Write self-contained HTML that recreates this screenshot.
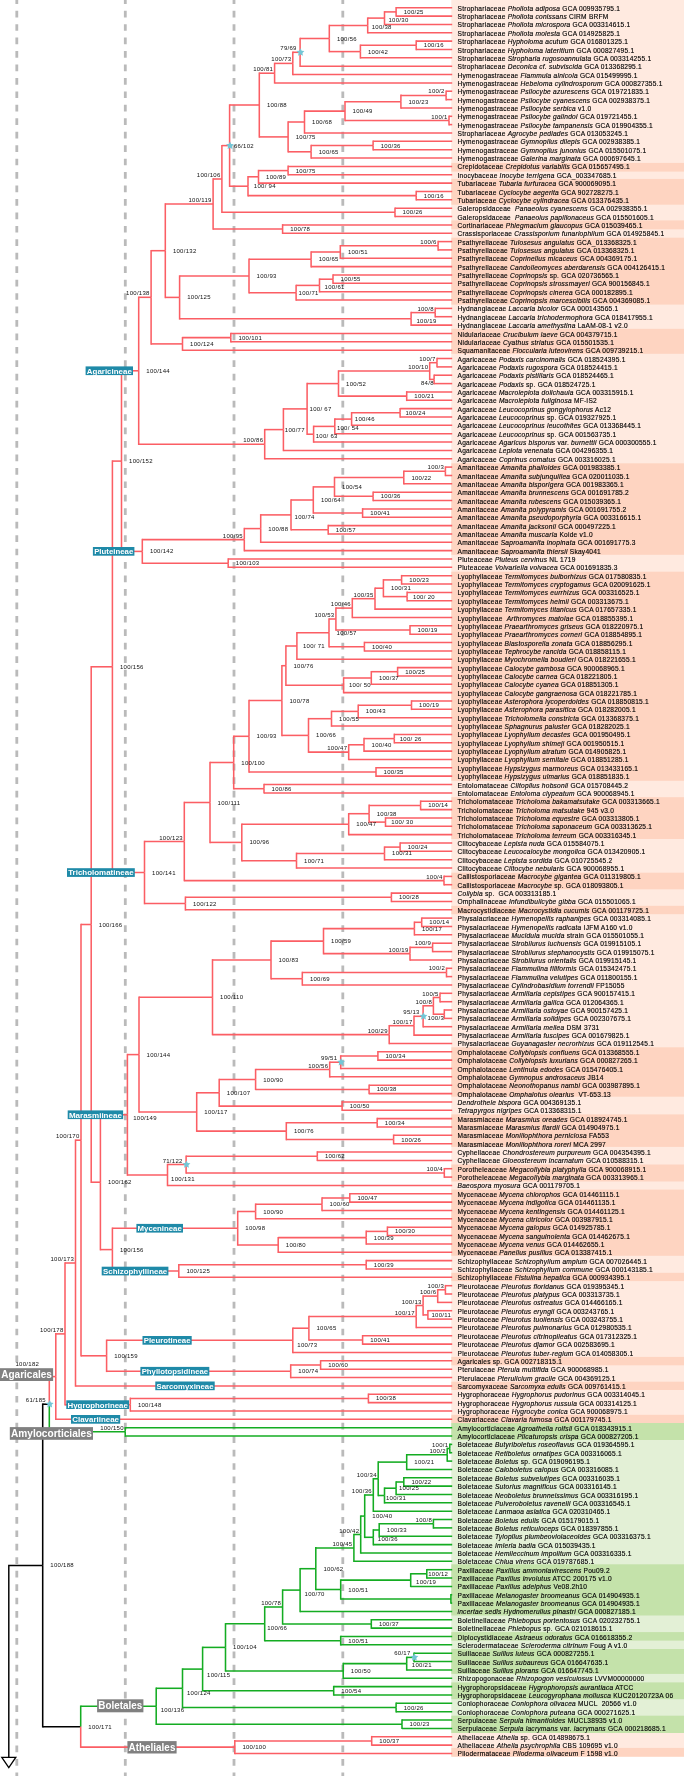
<!DOCTYPE html>
<html><head><meta charset="utf-8"><title>tree</title><style>html,body{margin:0;padding:0;background:#fff}body{width:685px;height:1776px;position:relative;overflow:hidden}</style></head><body>
<svg width="685" height="1776" viewBox="0 0 685 1776" style="position:absolute;left:0;top:0;will-change:transform">
<rect x="451.3" y="0.00" width="232.70" height="1423.00" fill="#ffeae0"/>
<rect x="451.3" y="1423.00" width="232.70" height="310.00" fill="#e3f0d6"/>
<rect x="451.3" y="1733.00" width="232.70" height="23.70" fill="#ffeae0"/>
<rect x="451.3" y="162.90" width="232.70" height="8.70" fill="#fed4c1"/>
<rect x="451.3" y="178.90" width="232.70" height="25.80" fill="#fed4c1"/>
<rect x="451.3" y="220.40" width="232.70" height="8.90" fill="#fed4c1"/>
<rect x="451.3" y="237.70" width="232.70" height="66.90" fill="#fed4c1"/>
<rect x="451.3" y="328.80" width="232.70" height="25.00" fill="#fed4c1"/>
<rect x="451.3" y="463.30" width="232.70" height="91.50" fill="#fed4c1"/>
<rect x="451.3" y="571.70" width="232.70" height="209.10" fill="#fed4c1"/>
<rect x="451.3" y="797.20" width="232.70" height="41.80" fill="#fed4c1"/>
<rect x="451.3" y="872.70" width="232.70" height="16.60" fill="#fed4c1"/>
<rect x="451.3" y="905.80" width="232.70" height="8.40" fill="#fed4c1"/>
<rect x="451.3" y="1047.30" width="232.70" height="49.40" fill="#fed4c1"/>
<rect x="451.3" y="1114.40" width="232.70" height="32.50" fill="#fed4c1"/>
<rect x="451.3" y="1164.50" width="232.70" height="17.00" fill="#fed4c1"/>
<rect x="451.3" y="1189.60" width="232.70" height="66.20" fill="#fed4c1"/>
<rect x="451.3" y="1272.80" width="232.70" height="8.30" fill="#fed4c1"/>
<rect x="451.3" y="1356.90" width="232.70" height="8.40" fill="#fed4c1"/>
<rect x="451.3" y="1381.70" width="232.70" height="8.30" fill="#fed4c1"/>
<rect x="451.3" y="1414.80" width="232.70" height="8.20" fill="#fed4c1"/>
<rect x="451.3" y="1747.90" width="232.70" height="8.80" fill="#fed4c1"/>
<rect x="451.3" y="1423.00" width="232.70" height="17.00" fill="#c4e2aa"/>
<rect x="451.3" y="1564.30" width="232.70" height="51.20" fill="#c4e2aa"/>
<rect x="451.3" y="1632.10" width="232.70" height="8.50" fill="#c4e2aa"/>
<rect x="451.3" y="1649.00" width="232.70" height="24.90" fill="#c4e2aa"/>
<rect x="451.3" y="1682.40" width="232.70" height="16.80" fill="#c4e2aa"/>
<rect x="451.3" y="1715.70" width="232.70" height="17.30" fill="#c4e2aa"/>
<path d="M16.8 0V1776" stroke="#bababa" stroke-width="2.8" stroke-dasharray="6.7 6.7485" stroke-dashoffset="2.74" fill="none"/>
<path d="M125.3 0V1776" stroke="#bababa" stroke-width="2.8" stroke-dasharray="6.7 6.7485" stroke-dashoffset="2.74" fill="none"/>
<path d="M234.0 0V1776" stroke="#bababa" stroke-width="2.8" stroke-dasharray="6.7 6.7485" stroke-dashoffset="2.74" fill="none"/>
<path d="M342.8 0V1776" stroke="#bababa" stroke-width="2.8" stroke-dasharray="6.7 6.7485" stroke-dashoffset="2.74" fill="none"/>
<g fill="none" stroke-linecap="butt">
<path d="M42.7 1565.4L42.7 1403.4" stroke="#000" stroke-width="1.55"/>
<path d="M42.7 1404.2L49.3 1404.2" stroke="#000" stroke-width="1.55"/>
<path d="M49.3 1404.2L49.3 1375.8" stroke="#fb5e64" stroke-width="1.55"/>
<path d="M49.3 1376.6L55.8 1376.6" stroke="#fb5e64" stroke-width="1.55"/>
<path d="M55.8 1376.6L55.8 1333.1" stroke="#fb5e64" stroke-width="1.55"/>
<path d="M55.8 1333.9L65.0 1333.9" stroke="#fb5e64" stroke-width="1.55"/>
<path d="M65.0 1333.9L65.0 1262.3" stroke="#fb5e64" stroke-width="1.55"/>
<path d="M65.0 1263.0L75.5 1263.0" stroke="#fb5e64" stroke-width="1.55"/>
<path d="M75.5 1263.0L75.5 1139.4" stroke="#fb5e64" stroke-width="1.55"/>
<path d="M75.5 1140.2L81.0 1140.2" stroke="#fb5e64" stroke-width="1.55"/>
<path d="M81.0 1140.2L81.0 923.7" stroke="#fb5e64" stroke-width="1.55"/>
<path d="M81.0 924.5L91.2 924.5" stroke="#fb5e64" stroke-width="1.55"/>
<path d="M91.2 924.5L91.2 666.0" stroke="#fb5e64" stroke-width="1.55"/>
<path d="M91.2 666.8L112.4 666.8" stroke="#fb5e64" stroke-width="1.55"/>
<path d="M112.4 666.8L112.4 460.3" stroke="#fb5e64" stroke-width="1.55"/>
<path d="M112.4 461.1L121.5 461.1" stroke="#fb5e64" stroke-width="1.55"/>
<path d="M121.5 461.1L121.5 370.0" stroke="#fb5e64" stroke-width="1.55"/>
<path d="M121.5 370.8L138.7 370.8" stroke="#fb5e64" stroke-width="1.55"/>
<path d="M138.7 370.8L138.7 296.5" stroke="#fb5e64" stroke-width="1.55"/>
<path d="M138.7 297.3L151.1 297.3" stroke="#fb5e64" stroke-width="1.55"/>
<path d="M151.1 297.3L151.1 250.0" stroke="#fb5e64" stroke-width="1.55"/>
<path d="M151.1 250.7L165.3 250.7" stroke="#fb5e64" stroke-width="1.55"/>
<path d="M165.3 250.7L165.3 203.2" stroke="#fb5e64" stroke-width="1.55"/>
<path d="M165.3 204.0L213.1 204.0" stroke="#fb5e64" stroke-width="1.55"/>
<path d="M213.1 204.0L213.1 178.2" stroke="#fb5e64" stroke-width="1.55"/>
<path d="M213.1 179.0L221.9 179.0" stroke="#fb5e64" stroke-width="1.55"/>
<path d="M221.9 179.0L221.9 144.9" stroke="#fb5e64" stroke-width="1.55"/>
<path d="M221.9 145.6L229.6 145.6" stroke="#fb5e64" stroke-width="1.55"/>
<path d="M229.6 145.6L229.6 104.3" stroke="#fb5e64" stroke-width="1.55"/>
<path d="M229.6 105.0L259.3 105.0" stroke="#fb5e64" stroke-width="1.55"/>
<path d="M259.3 105.0L259.3 72.4" stroke="#fb5e64" stroke-width="1.55"/>
<path d="M259.3 73.2L274.6 73.2" stroke="#fb5e64" stroke-width="1.55"/>
<path d="M274.6 73.2L274.6 62.7" stroke="#fb5e64" stroke-width="1.55"/>
<path d="M274.6 63.4L292.8 63.4" stroke="#fb5e64" stroke-width="1.55"/>
<path d="M292.8 63.4L292.8 51.6" stroke="#fb5e64" stroke-width="1.55"/>
<path d="M292.8 52.3L300.1 52.3" stroke="#fb5e64" stroke-width="1.55"/>
<path d="M300.1 52.3L300.1 37.7" stroke="#fb5e64" stroke-width="1.55"/>
<path d="M300.1 38.5L329.3 38.5" stroke="#fb5e64" stroke-width="1.55"/>
<path d="M329.3 38.5L329.3 24.7" stroke="#fb5e64" stroke-width="1.55"/>
<path d="M329.3 25.4L367.7 25.4" stroke="#fb5e64" stroke-width="1.55"/>
<path d="M367.7 25.4L367.7 17.4" stroke="#fb5e64" stroke-width="1.55"/>
<path d="M367.7 18.1L384.5 18.1" stroke="#fb5e64" stroke-width="1.55"/>
<path d="M384.5 18.1L384.5 11.1" stroke="#fb5e64" stroke-width="1.55"/>
<path d="M384.5 11.9L396.1 11.9" stroke="#fb5e64" stroke-width="1.55"/>
<path d="M396.1 11.9L396.1 6.9" stroke="#fb5e64" stroke-width="1.55"/>
<path d="M396.1 7.7L452.2 7.7" stroke="#fb5e64" stroke-width="1.55"/>
<path d="M396.1 11.9L396.1 16.8" stroke="#fb5e64" stroke-width="1.55"/>
<path d="M396.1 16.1L452.2 16.1" stroke="#fb5e64" stroke-width="1.55"/>
<path d="M384.5 18.1L384.5 25.2" stroke="#fb5e64" stroke-width="1.55"/>
<path d="M384.5 24.4L452.2 24.4" stroke="#fb5e64" stroke-width="1.55"/>
<path d="M367.7 25.4L367.7 33.5" stroke="#fb5e64" stroke-width="1.55"/>
<path d="M367.7 32.8L452.2 32.8" stroke="#fb5e64" stroke-width="1.55"/>
<path d="M329.3 38.5L329.3 52.3" stroke="#fb5e64" stroke-width="1.55"/>
<path d="M329.3 51.6L360.4 51.6" stroke="#fb5e64" stroke-width="1.55"/>
<path d="M360.4 51.6L360.4 44.5" stroke="#fb5e64" stroke-width="1.55"/>
<path d="M360.4 45.3L416.2 45.3" stroke="#fb5e64" stroke-width="1.55"/>
<path d="M416.2 45.3L416.2 40.3" stroke="#fb5e64" stroke-width="1.55"/>
<path d="M416.2 41.1L452.2 41.1" stroke="#fb5e64" stroke-width="1.55"/>
<path d="M416.2 45.3L416.2 50.2" stroke="#fb5e64" stroke-width="1.55"/>
<path d="M416.2 49.5L452.2 49.5" stroke="#fb5e64" stroke-width="1.55"/>
<path d="M360.4 51.6L360.4 58.6" stroke="#fb5e64" stroke-width="1.55"/>
<path d="M360.4 57.8L452.2 57.8" stroke="#fb5e64" stroke-width="1.55"/>
<path d="M300.1 52.3L300.1 66.9" stroke="#fb5e64" stroke-width="1.55"/>
<path d="M300.1 66.2L452.2 66.2" stroke="#fb5e64" stroke-width="1.55"/>
<path d="M292.8 63.4L292.8 75.3" stroke="#fb5e64" stroke-width="1.55"/>
<path d="M292.8 74.5L452.2 74.5" stroke="#fb5e64" stroke-width="1.55"/>
<path d="M274.6 73.2L274.6 83.6" stroke="#fb5e64" stroke-width="1.55"/>
<path d="M274.6 82.9L452.2 82.9" stroke="#fb5e64" stroke-width="1.55"/>
<path d="M259.3 105.0L259.3 137.7" stroke="#fb5e64" stroke-width="1.55"/>
<path d="M259.3 136.9L288.1 136.9" stroke="#fb5e64" stroke-width="1.55"/>
<path d="M288.1 136.9L288.1 121.3" stroke="#fb5e64" stroke-width="1.55"/>
<path d="M288.1 122.0L304.5 122.0" stroke="#fb5e64" stroke-width="1.55"/>
<path d="M304.5 122.0L304.5 110.3" stroke="#fb5e64" stroke-width="1.55"/>
<path d="M304.5 111.1L345.0 111.1" stroke="#fb5e64" stroke-width="1.55"/>
<path d="M345.0 111.1L345.0 100.9" stroke="#fb5e64" stroke-width="1.55"/>
<path d="M345.0 101.7L400.9 101.7" stroke="#fb5e64" stroke-width="1.55"/>
<path d="M400.9 101.7L400.9 94.6" stroke="#fb5e64" stroke-width="1.55"/>
<path d="M400.9 95.4L446.1 95.4" stroke="#fb5e64" stroke-width="1.55"/>
<path d="M446.1 95.4L446.1 90.5" stroke="#fb5e64" stroke-width="1.55"/>
<path d="M446.1 91.2L452.2 91.2" stroke="#fb5e64" stroke-width="1.55"/>
<path d="M446.1 95.4L446.1 100.4" stroke="#fb5e64" stroke-width="1.55"/>
<path d="M446.1 99.6L452.2 99.6" stroke="#fb5e64" stroke-width="1.55"/>
<path d="M400.9 101.7L400.9 108.7" stroke="#fb5e64" stroke-width="1.55"/>
<path d="M400.9 107.9L452.2 107.9" stroke="#fb5e64" stroke-width="1.55"/>
<path d="M345.0 111.1L345.0 121.2" stroke="#fb5e64" stroke-width="1.55"/>
<path d="M345.0 120.5L449.0 120.5" stroke="#fb5e64" stroke-width="1.55"/>
<path d="M449.0 120.5L449.0 115.5" stroke="#fb5e64" stroke-width="1.55"/>
<path d="M449.0 116.3L452.2 116.3" stroke="#fb5e64" stroke-width="1.55"/>
<path d="M449.0 120.5L449.0 125.4" stroke="#fb5e64" stroke-width="1.55"/>
<path d="M449.0 124.6L452.2 124.6" stroke="#fb5e64" stroke-width="1.55"/>
<path d="M304.5 122.0L304.5 133.8" stroke="#fb5e64" stroke-width="1.55"/>
<path d="M304.5 133.0L452.2 133.0" stroke="#fb5e64" stroke-width="1.55"/>
<path d="M288.1 136.9L288.1 152.6" stroke="#fb5e64" stroke-width="1.55"/>
<path d="M288.1 151.8L311.1 151.8" stroke="#fb5e64" stroke-width="1.55"/>
<path d="M311.1 151.8L311.1 144.7" stroke="#fb5e64" stroke-width="1.55"/>
<path d="M311.1 145.5L373.1 145.5" stroke="#fb5e64" stroke-width="1.55"/>
<path d="M373.1 145.5L373.1 140.6" stroke="#fb5e64" stroke-width="1.55"/>
<path d="M373.1 141.3L452.2 141.3" stroke="#fb5e64" stroke-width="1.55"/>
<path d="M373.1 145.5L373.1 150.5" stroke="#fb5e64" stroke-width="1.55"/>
<path d="M373.1 149.7L452.2 149.7" stroke="#fb5e64" stroke-width="1.55"/>
<path d="M311.1 151.8L311.1 158.8" stroke="#fb5e64" stroke-width="1.55"/>
<path d="M311.1 158.0L452.2 158.0" stroke="#fb5e64" stroke-width="1.55"/>
<path d="M229.6 145.6L229.6 187.0" stroke="#fb5e64" stroke-width="1.55"/>
<path d="M229.6 186.2L248.0 186.2" stroke="#fb5e64" stroke-width="1.55"/>
<path d="M248.0 186.2L248.0 176.1" stroke="#fb5e64" stroke-width="1.55"/>
<path d="M248.0 176.8L258.5 176.8" stroke="#fb5e64" stroke-width="1.55"/>
<path d="M258.5 176.8L258.5 169.8" stroke="#fb5e64" stroke-width="1.55"/>
<path d="M258.5 170.6L288.1 170.6" stroke="#fb5e64" stroke-width="1.55"/>
<path d="M288.1 170.6L288.1 165.6" stroke="#fb5e64" stroke-width="1.55"/>
<path d="M288.1 166.4L452.2 166.4" stroke="#fb5e64" stroke-width="1.55"/>
<path d="M288.1 170.6L288.1 175.5" stroke="#fb5e64" stroke-width="1.55"/>
<path d="M288.1 174.8L452.2 174.8" stroke="#fb5e64" stroke-width="1.55"/>
<path d="M258.5 176.8L258.5 183.9" stroke="#fb5e64" stroke-width="1.55"/>
<path d="M258.5 183.1L452.2 183.1" stroke="#fb5e64" stroke-width="1.55"/>
<path d="M248.0 186.2L248.0 196.4" stroke="#fb5e64" stroke-width="1.55"/>
<path d="M248.0 195.6L416.2 195.6" stroke="#fb5e64" stroke-width="1.55"/>
<path d="M416.2 195.6L416.2 190.7" stroke="#fb5e64" stroke-width="1.55"/>
<path d="M416.2 191.5L452.2 191.5" stroke="#fb5e64" stroke-width="1.55"/>
<path d="M416.2 195.6L416.2 200.6" stroke="#fb5e64" stroke-width="1.55"/>
<path d="M416.2 199.8L452.2 199.8" stroke="#fb5e64" stroke-width="1.55"/>
<path d="M221.9 179.0L221.9 213.1" stroke="#fb5e64" stroke-width="1.55"/>
<path d="M221.9 212.3L395.0 212.3" stroke="#fb5e64" stroke-width="1.55"/>
<path d="M395.0 212.3L395.0 207.4" stroke="#fb5e64" stroke-width="1.55"/>
<path d="M395.0 208.2L452.2 208.2" stroke="#fb5e64" stroke-width="1.55"/>
<path d="M395.0 212.3L395.0 217.3" stroke="#fb5e64" stroke-width="1.55"/>
<path d="M395.0 216.5L452.2 216.5" stroke="#fb5e64" stroke-width="1.55"/>
<path d="M213.1 204.0L213.1 229.8" stroke="#fb5e64" stroke-width="1.55"/>
<path d="M213.1 229.0L282.6 229.0" stroke="#fb5e64" stroke-width="1.55"/>
<path d="M282.6 229.0L282.6 224.1" stroke="#fb5e64" stroke-width="1.55"/>
<path d="M282.6 224.9L452.2 224.9" stroke="#fb5e64" stroke-width="1.55"/>
<path d="M282.6 229.0L282.6 234.0" stroke="#fb5e64" stroke-width="1.55"/>
<path d="M282.6 233.2L452.2 233.2" stroke="#fb5e64" stroke-width="1.55"/>
<path d="M165.3 250.7L165.3 298.2" stroke="#fb5e64" stroke-width="1.55"/>
<path d="M165.3 297.4L179.6 297.4" stroke="#fb5e64" stroke-width="1.55"/>
<path d="M179.6 297.4L179.6 275.3" stroke="#fb5e64" stroke-width="1.55"/>
<path d="M179.6 276.0L249.0 276.0" stroke="#fb5e64" stroke-width="1.55"/>
<path d="M249.0 276.0L249.0 258.6" stroke="#fb5e64" stroke-width="1.55"/>
<path d="M249.0 259.3L311.1 259.3" stroke="#fb5e64" stroke-width="1.55"/>
<path d="M311.1 259.3L311.1 251.2" stroke="#fb5e64" stroke-width="1.55"/>
<path d="M311.1 252.0L340.3 252.0" stroke="#fb5e64" stroke-width="1.55"/>
<path d="M340.3 252.0L340.3 245.0" stroke="#fb5e64" stroke-width="1.55"/>
<path d="M340.3 245.8L438.1 245.8" stroke="#fb5e64" stroke-width="1.55"/>
<path d="M438.1 245.8L438.1 240.8" stroke="#fb5e64" stroke-width="1.55"/>
<path d="M438.1 241.6L452.2 241.6" stroke="#fb5e64" stroke-width="1.55"/>
<path d="M438.1 245.8L438.1 250.7" stroke="#fb5e64" stroke-width="1.55"/>
<path d="M438.1 249.9L452.2 249.9" stroke="#fb5e64" stroke-width="1.55"/>
<path d="M340.3 252.0L340.3 259.1" stroke="#fb5e64" stroke-width="1.55"/>
<path d="M340.3 258.3L452.2 258.3" stroke="#fb5e64" stroke-width="1.55"/>
<path d="M311.1 259.3L311.1 267.4" stroke="#fb5e64" stroke-width="1.55"/>
<path d="M311.1 266.6L452.2 266.6" stroke="#fb5e64" stroke-width="1.55"/>
<path d="M249.0 276.0L249.0 293.5" stroke="#fb5e64" stroke-width="1.55"/>
<path d="M249.0 292.7L296.1 292.7" stroke="#fb5e64" stroke-width="1.55"/>
<path d="M296.1 292.7L296.1 284.7" stroke="#fb5e64" stroke-width="1.55"/>
<path d="M296.1 285.4L319.5 285.4" stroke="#fb5e64" stroke-width="1.55"/>
<path d="M319.5 285.4L319.5 278.4" stroke="#fb5e64" stroke-width="1.55"/>
<path d="M319.5 279.2L333.0 279.2" stroke="#fb5e64" stroke-width="1.55"/>
<path d="M333.0 279.2L333.0 274.2" stroke="#fb5e64" stroke-width="1.55"/>
<path d="M333.0 275.0L452.2 275.0" stroke="#fb5e64" stroke-width="1.55"/>
<path d="M333.0 279.2L333.0 284.1" stroke="#fb5e64" stroke-width="1.55"/>
<path d="M333.0 283.3L452.2 283.3" stroke="#fb5e64" stroke-width="1.55"/>
<path d="M319.5 285.4L319.5 292.5" stroke="#fb5e64" stroke-width="1.55"/>
<path d="M319.5 291.7L452.2 291.7" stroke="#fb5e64" stroke-width="1.55"/>
<path d="M296.1 292.7L296.1 300.8" stroke="#fb5e64" stroke-width="1.55"/>
<path d="M296.1 300.0L452.2 300.0" stroke="#fb5e64" stroke-width="1.55"/>
<path d="M179.6 297.4L179.6 319.6" stroke="#fb5e64" stroke-width="1.55"/>
<path d="M179.6 318.8L411.1 318.8" stroke="#fb5e64" stroke-width="1.55"/>
<path d="M411.1 318.8L411.1 311.8" stroke="#fb5e64" stroke-width="1.55"/>
<path d="M411.1 312.6L435.2 312.6" stroke="#fb5e64" stroke-width="1.55"/>
<path d="M435.2 312.6L435.2 307.6" stroke="#fb5e64" stroke-width="1.55"/>
<path d="M435.2 308.4L452.2 308.4" stroke="#fb5e64" stroke-width="1.55"/>
<path d="M435.2 312.6L435.2 317.5" stroke="#fb5e64" stroke-width="1.55"/>
<path d="M435.2 316.7L452.2 316.7" stroke="#fb5e64" stroke-width="1.55"/>
<path d="M411.1 318.8L411.1 325.9" stroke="#fb5e64" stroke-width="1.55"/>
<path d="M411.1 325.1L452.2 325.1" stroke="#fb5e64" stroke-width="1.55"/>
<path d="M151.1 297.3L151.1 344.7" stroke="#fb5e64" stroke-width="1.55"/>
<path d="M151.1 343.9L182.5 343.9" stroke="#fb5e64" stroke-width="1.55"/>
<path d="M182.5 343.9L182.5 336.9" stroke="#fb5e64" stroke-width="1.55"/>
<path d="M182.5 337.6L230.8 337.6" stroke="#fb5e64" stroke-width="1.55"/>
<path d="M230.8 337.6L230.8 332.7" stroke="#fb5e64" stroke-width="1.55"/>
<path d="M230.8 333.5L452.2 333.5" stroke="#fb5e64" stroke-width="1.55"/>
<path d="M230.8 337.6L230.8 342.6" stroke="#fb5e64" stroke-width="1.55"/>
<path d="M230.8 341.8L452.2 341.8" stroke="#fb5e64" stroke-width="1.55"/>
<path d="M182.5 343.9L182.5 350.9" stroke="#fb5e64" stroke-width="1.55"/>
<path d="M182.5 350.2L452.2 350.2" stroke="#fb5e64" stroke-width="1.55"/>
<path d="M138.7 370.8L138.7 445.0" stroke="#fb5e64" stroke-width="1.55"/>
<path d="M138.7 444.2L264.7 444.2" stroke="#fb5e64" stroke-width="1.55"/>
<path d="M264.7 444.2L264.7 428.9" stroke="#fb5e64" stroke-width="1.55"/>
<path d="M264.7 429.6L283.4 429.6" stroke="#fb5e64" stroke-width="1.55"/>
<path d="M283.4 429.6L283.4 408.1" stroke="#fb5e64" stroke-width="1.55"/>
<path d="M283.4 408.9L307.1 408.9" stroke="#fb5e64" stroke-width="1.55"/>
<path d="M307.1 408.9L307.1 382.8" stroke="#fb5e64" stroke-width="1.55"/>
<path d="M307.1 383.6L338.5 383.6" stroke="#fb5e64" stroke-width="1.55"/>
<path d="M338.5 383.6L338.5 370.3" stroke="#fb5e64" stroke-width="1.55"/>
<path d="M338.5 371.0L429.7 371.0" stroke="#fb5e64" stroke-width="1.55"/>
<path d="M429.7 371.0L429.7 361.9" stroke="#fb5e64" stroke-width="1.55"/>
<path d="M429.7 362.7L437.0 362.7" stroke="#fb5e64" stroke-width="1.55"/>
<path d="M437.0 362.7L437.0 357.7" stroke="#fb5e64" stroke-width="1.55"/>
<path d="M437.0 358.5L452.2 358.5" stroke="#fb5e64" stroke-width="1.55"/>
<path d="M437.0 362.7L437.0 367.6" stroke="#fb5e64" stroke-width="1.55"/>
<path d="M437.0 366.9L452.2 366.9" stroke="#fb5e64" stroke-width="1.55"/>
<path d="M429.7 371.0L429.7 380.2" stroke="#fb5e64" stroke-width="1.55"/>
<path d="M429.7 379.4L434.1 379.4" stroke="#fb5e64" stroke-width="1.55"/>
<path d="M434.1 379.4L434.1 374.4" stroke="#fb5e64" stroke-width="1.55"/>
<path d="M434.1 375.2L452.2 375.2" stroke="#fb5e64" stroke-width="1.55"/>
<path d="M434.1 379.4L434.1 384.3" stroke="#fb5e64" stroke-width="1.55"/>
<path d="M434.1 383.6L452.2 383.6" stroke="#fb5e64" stroke-width="1.55"/>
<path d="M338.5 383.6L338.5 396.9" stroke="#fb5e64" stroke-width="1.55"/>
<path d="M338.5 396.1L406.7 396.1" stroke="#fb5e64" stroke-width="1.55"/>
<path d="M406.7 396.1L406.7 391.1" stroke="#fb5e64" stroke-width="1.55"/>
<path d="M406.7 391.9L452.2 391.9" stroke="#fb5e64" stroke-width="1.55"/>
<path d="M406.7 396.1L406.7 401.1" stroke="#fb5e64" stroke-width="1.55"/>
<path d="M406.7 400.3L452.2 400.3" stroke="#fb5e64" stroke-width="1.55"/>
<path d="M307.1 408.9L307.1 435.0" stroke="#fb5e64" stroke-width="1.55"/>
<path d="M307.1 434.2L313.6 434.2" stroke="#fb5e64" stroke-width="1.55"/>
<path d="M313.6 434.2L313.6 425.6" stroke="#fb5e64" stroke-width="1.55"/>
<path d="M313.6 426.4L334.8 426.4" stroke="#fb5e64" stroke-width="1.55"/>
<path d="M334.8 426.4L334.8 418.3" stroke="#fb5e64" stroke-width="1.55"/>
<path d="M334.8 419.1L351.6 419.1" stroke="#fb5e64" stroke-width="1.55"/>
<path d="M351.6 419.1L351.6 412.0" stroke="#fb5e64" stroke-width="1.55"/>
<path d="M351.6 412.8L400.1 412.8" stroke="#fb5e64" stroke-width="1.55"/>
<path d="M400.1 412.8L400.1 407.9" stroke="#fb5e64" stroke-width="1.55"/>
<path d="M400.1 408.6L452.2 408.6" stroke="#fb5e64" stroke-width="1.55"/>
<path d="M400.1 412.8L400.1 417.8" stroke="#fb5e64" stroke-width="1.55"/>
<path d="M400.1 417.0L452.2 417.0" stroke="#fb5e64" stroke-width="1.55"/>
<path d="M351.6 419.1L351.6 426.1" stroke="#fb5e64" stroke-width="1.55"/>
<path d="M351.6 425.3L452.2 425.3" stroke="#fb5e64" stroke-width="1.55"/>
<path d="M334.8 426.4L334.8 434.5" stroke="#fb5e64" stroke-width="1.55"/>
<path d="M334.8 433.7L452.2 433.7" stroke="#fb5e64" stroke-width="1.55"/>
<path d="M313.6 434.2L313.6 442.8" stroke="#fb5e64" stroke-width="1.55"/>
<path d="M313.6 442.0L452.2 442.0" stroke="#fb5e64" stroke-width="1.55"/>
<path d="M283.4 429.6L283.4 451.2" stroke="#fb5e64" stroke-width="1.55"/>
<path d="M283.4 450.4L452.2 450.4" stroke="#fb5e64" stroke-width="1.55"/>
<path d="M264.7 444.2L264.7 459.5" stroke="#fb5e64" stroke-width="1.55"/>
<path d="M264.7 458.7L452.2 458.7" stroke="#fb5e64" stroke-width="1.55"/>
<path d="M121.5 461.1L121.5 552.2" stroke="#fb5e64" stroke-width="1.55"/>
<path d="M121.5 551.4L142.3 551.4" stroke="#fb5e64" stroke-width="1.55"/>
<path d="M142.3 551.4L142.3 538.8" stroke="#fb5e64" stroke-width="1.55"/>
<path d="M142.3 539.6L244.3 539.6" stroke="#fb5e64" stroke-width="1.55"/>
<path d="M244.3 539.6L244.3 527.8" stroke="#fb5e64" stroke-width="1.55"/>
<path d="M244.3 528.6L260.7 528.6" stroke="#fb5e64" stroke-width="1.55"/>
<path d="M260.7 528.6L260.7 514.1" stroke="#fb5e64" stroke-width="1.55"/>
<path d="M260.7 514.9L291.0 514.9" stroke="#fb5e64" stroke-width="1.55"/>
<path d="M291.0 514.9L291.0 499.2" stroke="#fb5e64" stroke-width="1.55"/>
<path d="M291.0 500.0L313.3 500.0" stroke="#fb5e64" stroke-width="1.55"/>
<path d="M313.3 500.0L313.3 486.2" stroke="#fb5e64" stroke-width="1.55"/>
<path d="M313.3 486.9L334.5 486.9" stroke="#fb5e64" stroke-width="1.55"/>
<path d="M334.5 486.9L334.5 476.8" stroke="#fb5e64" stroke-width="1.55"/>
<path d="M334.5 477.5L403.8 477.5" stroke="#fb5e64" stroke-width="1.55"/>
<path d="M403.8 477.5L403.8 470.5" stroke="#fb5e64" stroke-width="1.55"/>
<path d="M403.8 471.3L445.4 471.3" stroke="#fb5e64" stroke-width="1.55"/>
<path d="M445.4 471.3L445.4 466.3" stroke="#fb5e64" stroke-width="1.55"/>
<path d="M445.4 467.1L452.2 467.1" stroke="#fb5e64" stroke-width="1.55"/>
<path d="M445.4 471.3L445.4 476.2" stroke="#fb5e64" stroke-width="1.55"/>
<path d="M445.4 475.5L452.2 475.5" stroke="#fb5e64" stroke-width="1.55"/>
<path d="M403.8 477.5L403.8 484.6" stroke="#fb5e64" stroke-width="1.55"/>
<path d="M403.8 483.8L452.2 483.8" stroke="#fb5e64" stroke-width="1.55"/>
<path d="M334.5 486.9L334.5 497.1" stroke="#fb5e64" stroke-width="1.55"/>
<path d="M334.5 496.3L373.1 496.3" stroke="#fb5e64" stroke-width="1.55"/>
<path d="M373.1 496.3L373.1 491.4" stroke="#fb5e64" stroke-width="1.55"/>
<path d="M373.1 492.2L452.2 492.2" stroke="#fb5e64" stroke-width="1.55"/>
<path d="M373.1 496.3L373.1 501.3" stroke="#fb5e64" stroke-width="1.55"/>
<path d="M373.1 500.5L452.2 500.5" stroke="#fb5e64" stroke-width="1.55"/>
<path d="M313.3 500.0L313.3 513.8" stroke="#fb5e64" stroke-width="1.55"/>
<path d="M313.3 513.0L362.6 513.0" stroke="#fb5e64" stroke-width="1.55"/>
<path d="M362.6 513.0L362.6 508.1" stroke="#fb5e64" stroke-width="1.55"/>
<path d="M362.6 508.9L452.2 508.9" stroke="#fb5e64" stroke-width="1.55"/>
<path d="M362.6 513.0L362.6 518.0" stroke="#fb5e64" stroke-width="1.55"/>
<path d="M362.6 517.2L452.2 517.2" stroke="#fb5e64" stroke-width="1.55"/>
<path d="M291.0 514.9L291.0 530.5" stroke="#fb5e64" stroke-width="1.55"/>
<path d="M291.0 529.7L328.2 529.7" stroke="#fb5e64" stroke-width="1.55"/>
<path d="M328.2 529.7L328.2 524.8" stroke="#fb5e64" stroke-width="1.55"/>
<path d="M328.2 525.6L452.2 525.6" stroke="#fb5e64" stroke-width="1.55"/>
<path d="M328.2 529.7L328.2 534.7" stroke="#fb5e64" stroke-width="1.55"/>
<path d="M328.2 533.9L452.2 533.9" stroke="#fb5e64" stroke-width="1.55"/>
<path d="M260.7 528.6L260.7 543.0" stroke="#fb5e64" stroke-width="1.55"/>
<path d="M260.7 542.3L452.2 542.3" stroke="#fb5e64" stroke-width="1.55"/>
<path d="M244.3 539.6L244.3 551.4" stroke="#fb5e64" stroke-width="1.55"/>
<path d="M244.3 550.6L452.2 550.6" stroke="#fb5e64" stroke-width="1.55"/>
<path d="M142.3 551.4L142.3 563.9" stroke="#fb5e64" stroke-width="1.55"/>
<path d="M142.3 563.2L228.2 563.2" stroke="#fb5e64" stroke-width="1.55"/>
<path d="M228.2 563.2L228.2 558.2" stroke="#fb5e64" stroke-width="1.55"/>
<path d="M228.2 559.0L452.2 559.0" stroke="#fb5e64" stroke-width="1.55"/>
<path d="M228.2 563.2L228.2 568.1" stroke="#fb5e64" stroke-width="1.55"/>
<path d="M228.2 567.3L452.2 567.3" stroke="#fb5e64" stroke-width="1.55"/>
<path d="M112.4 666.8L112.4 873.3" stroke="#fb5e64" stroke-width="1.55"/>
<path d="M112.4 872.5L144.5 872.5" stroke="#fb5e64" stroke-width="1.55"/>
<path d="M144.5 872.5L144.5 840.7" stroke="#fb5e64" stroke-width="1.55"/>
<path d="M144.5 841.5L184.3 841.5" stroke="#fb5e64" stroke-width="1.55"/>
<path d="M184.3 841.5L184.3 801.7" stroke="#fb5e64" stroke-width="1.55"/>
<path d="M184.3 802.5L210.0 802.5" stroke="#fb5e64" stroke-width="1.55"/>
<path d="M210.0 802.5L210.0 761.7" stroke="#fb5e64" stroke-width="1.55"/>
<path d="M210.0 762.5L233.7 762.5" stroke="#fb5e64" stroke-width="1.55"/>
<path d="M233.7 762.5L233.7 735.5" stroke="#fb5e64" stroke-width="1.55"/>
<path d="M233.7 736.3L249.0 736.3" stroke="#fb5e64" stroke-width="1.55"/>
<path d="M249.0 736.3L249.0 699.8" stroke="#fb5e64" stroke-width="1.55"/>
<path d="M249.0 700.5L281.9 700.5" stroke="#fb5e64" stroke-width="1.55"/>
<path d="M281.9 700.5L281.9 664.9" stroke="#fb5e64" stroke-width="1.55"/>
<path d="M281.9 665.7L285.9 665.7" stroke="#fb5e64" stroke-width="1.55"/>
<path d="M285.9 665.7L285.9 645.3" stroke="#fb5e64" stroke-width="1.55"/>
<path d="M285.9 646.0L296.9 646.0" stroke="#fb5e64" stroke-width="1.55"/>
<path d="M296.9 646.0L296.9 632.1" stroke="#fb5e64" stroke-width="1.55"/>
<path d="M296.9 632.8L329.0 632.8" stroke="#fb5e64" stroke-width="1.55"/>
<path d="M329.0 632.8L329.0 618.2" stroke="#fb5e64" stroke-width="1.55"/>
<path d="M329.0 619.0L335.9 619.0" stroke="#fb5e64" stroke-width="1.55"/>
<path d="M335.9 619.0L335.9 607.3" stroke="#fb5e64" stroke-width="1.55"/>
<path d="M335.9 608.1L352.3 608.1" stroke="#fb5e64" stroke-width="1.55"/>
<path d="M352.3 608.1L352.3 597.9" stroke="#fb5e64" stroke-width="1.55"/>
<path d="M352.3 598.7L375.0 598.7" stroke="#fb5e64" stroke-width="1.55"/>
<path d="M375.0 598.7L375.0 587.4" stroke="#fb5e64" stroke-width="1.55"/>
<path d="M375.0 588.2L383.4 588.2" stroke="#fb5e64" stroke-width="1.55"/>
<path d="M383.4 588.2L383.4 579.1" stroke="#fb5e64" stroke-width="1.55"/>
<path d="M383.4 579.9L401.6 579.9" stroke="#fb5e64" stroke-width="1.55"/>
<path d="M401.6 579.9L401.6 574.9" stroke="#fb5e64" stroke-width="1.55"/>
<path d="M401.6 575.7L452.2 575.7" stroke="#fb5e64" stroke-width="1.55"/>
<path d="M401.6 579.9L401.6 584.8" stroke="#fb5e64" stroke-width="1.55"/>
<path d="M401.6 584.0L452.2 584.0" stroke="#fb5e64" stroke-width="1.55"/>
<path d="M383.4 588.2L383.4 597.3" stroke="#fb5e64" stroke-width="1.55"/>
<path d="M383.4 596.6L407.1 596.6" stroke="#fb5e64" stroke-width="1.55"/>
<path d="M407.1 596.6L407.1 591.6" stroke="#fb5e64" stroke-width="1.55"/>
<path d="M407.1 592.4L452.2 592.4" stroke="#fb5e64" stroke-width="1.55"/>
<path d="M407.1 596.6L407.1 601.5" stroke="#fb5e64" stroke-width="1.55"/>
<path d="M407.1 600.7L452.2 600.7" stroke="#fb5e64" stroke-width="1.55"/>
<path d="M375.0 598.7L375.0 609.9" stroke="#fb5e64" stroke-width="1.55"/>
<path d="M375.0 609.1L452.2 609.1" stroke="#fb5e64" stroke-width="1.55"/>
<path d="M352.3 608.1L352.3 618.2" stroke="#fb5e64" stroke-width="1.55"/>
<path d="M352.3 617.4L452.2 617.4" stroke="#fb5e64" stroke-width="1.55"/>
<path d="M335.9 619.0L335.9 630.8" stroke="#fb5e64" stroke-width="1.55"/>
<path d="M335.9 630.0L410.0 630.0" stroke="#fb5e64" stroke-width="1.55"/>
<path d="M410.0 630.0L410.0 625.0" stroke="#fb5e64" stroke-width="1.55"/>
<path d="M410.0 625.8L452.2 625.8" stroke="#fb5e64" stroke-width="1.55"/>
<path d="M410.0 630.0L410.0 634.9" stroke="#fb5e64" stroke-width="1.55"/>
<path d="M410.0 634.2L452.2 634.2" stroke="#fb5e64" stroke-width="1.55"/>
<path d="M329.0 632.8L329.0 647.5" stroke="#fb5e64" stroke-width="1.55"/>
<path d="M329.0 646.7L364.4 646.7" stroke="#fb5e64" stroke-width="1.55"/>
<path d="M364.4 646.7L364.4 641.7" stroke="#fb5e64" stroke-width="1.55"/>
<path d="M364.4 642.5L452.2 642.5" stroke="#fb5e64" stroke-width="1.55"/>
<path d="M364.4 646.7L364.4 651.6" stroke="#fb5e64" stroke-width="1.55"/>
<path d="M364.4 650.9L452.2 650.9" stroke="#fb5e64" stroke-width="1.55"/>
<path d="M296.9 646.0L296.9 660.0" stroke="#fb5e64" stroke-width="1.55"/>
<path d="M296.9 659.2L452.2 659.2" stroke="#fb5e64" stroke-width="1.55"/>
<path d="M285.9 665.7L285.9 686.1" stroke="#fb5e64" stroke-width="1.55"/>
<path d="M285.9 685.3L343.6 685.3" stroke="#fb5e64" stroke-width="1.55"/>
<path d="M343.6 685.3L343.6 677.2" stroke="#fb5e64" stroke-width="1.55"/>
<path d="M343.6 678.0L371.3 678.0" stroke="#fb5e64" stroke-width="1.55"/>
<path d="M371.3 678.0L371.3 671.0" stroke="#fb5e64" stroke-width="1.55"/>
<path d="M371.3 671.7L397.6 671.7" stroke="#fb5e64" stroke-width="1.55"/>
<path d="M397.6 671.7L397.6 666.8" stroke="#fb5e64" stroke-width="1.55"/>
<path d="M397.6 667.6L452.2 667.6" stroke="#fb5e64" stroke-width="1.55"/>
<path d="M397.6 671.7L397.6 676.7" stroke="#fb5e64" stroke-width="1.55"/>
<path d="M397.6 675.9L452.2 675.9" stroke="#fb5e64" stroke-width="1.55"/>
<path d="M371.3 678.0L371.3 685.0" stroke="#fb5e64" stroke-width="1.55"/>
<path d="M371.3 684.3L452.2 684.3" stroke="#fb5e64" stroke-width="1.55"/>
<path d="M343.6 685.3L343.6 693.4" stroke="#fb5e64" stroke-width="1.55"/>
<path d="M343.6 692.6L452.2 692.6" stroke="#fb5e64" stroke-width="1.55"/>
<path d="M281.9 700.5L281.9 736.2" stroke="#fb5e64" stroke-width="1.55"/>
<path d="M281.9 735.4L308.5 735.4" stroke="#fb5e64" stroke-width="1.55"/>
<path d="M308.5 735.4L308.5 717.9" stroke="#fb5e64" stroke-width="1.55"/>
<path d="M308.5 718.7L331.5 718.7" stroke="#fb5e64" stroke-width="1.55"/>
<path d="M331.5 718.7L331.5 710.6" stroke="#fb5e64" stroke-width="1.55"/>
<path d="M331.5 711.4L358.2 711.4" stroke="#fb5e64" stroke-width="1.55"/>
<path d="M358.2 711.4L358.2 704.4" stroke="#fb5e64" stroke-width="1.55"/>
<path d="M358.2 705.2L411.5 705.2" stroke="#fb5e64" stroke-width="1.55"/>
<path d="M411.5 705.2L411.5 700.2" stroke="#fb5e64" stroke-width="1.55"/>
<path d="M411.5 701.0L452.2 701.0" stroke="#fb5e64" stroke-width="1.55"/>
<path d="M411.5 705.2L411.5 710.1" stroke="#fb5e64" stroke-width="1.55"/>
<path d="M411.5 709.3L452.2 709.3" stroke="#fb5e64" stroke-width="1.55"/>
<path d="M358.2 711.4L358.2 718.5" stroke="#fb5e64" stroke-width="1.55"/>
<path d="M358.2 717.7L452.2 717.7" stroke="#fb5e64" stroke-width="1.55"/>
<path d="M331.5 718.7L331.5 726.8" stroke="#fb5e64" stroke-width="1.55"/>
<path d="M331.5 726.0L452.2 726.0" stroke="#fb5e64" stroke-width="1.55"/>
<path d="M308.5 735.4L308.5 752.9" stroke="#fb5e64" stroke-width="1.55"/>
<path d="M308.5 752.1L348.7 752.1" stroke="#fb5e64" stroke-width="1.55"/>
<path d="M348.7 752.1L348.7 744.1" stroke="#fb5e64" stroke-width="1.55"/>
<path d="M348.7 744.8L364.0 744.8" stroke="#fb5e64" stroke-width="1.55"/>
<path d="M364.0 744.8L364.0 737.8" stroke="#fb5e64" stroke-width="1.55"/>
<path d="M364.0 738.6L394.3 738.6" stroke="#fb5e64" stroke-width="1.55"/>
<path d="M394.3 738.6L394.3 733.6" stroke="#fb5e64" stroke-width="1.55"/>
<path d="M394.3 734.4L452.2 734.4" stroke="#fb5e64" stroke-width="1.55"/>
<path d="M394.3 738.6L394.3 743.5" stroke="#fb5e64" stroke-width="1.55"/>
<path d="M394.3 742.7L452.2 742.7" stroke="#fb5e64" stroke-width="1.55"/>
<path d="M364.0 744.8L364.0 751.9" stroke="#fb5e64" stroke-width="1.55"/>
<path d="M364.0 751.1L452.2 751.1" stroke="#fb5e64" stroke-width="1.55"/>
<path d="M348.7 752.1L348.7 760.2" stroke="#fb5e64" stroke-width="1.55"/>
<path d="M348.7 759.4L452.2 759.4" stroke="#fb5e64" stroke-width="1.55"/>
<path d="M249.0 736.3L249.0 772.7" stroke="#fb5e64" stroke-width="1.55"/>
<path d="M249.0 772.0L376.0 772.0" stroke="#fb5e64" stroke-width="1.55"/>
<path d="M376.0 772.0L376.0 767.0" stroke="#fb5e64" stroke-width="1.55"/>
<path d="M376.0 767.8L452.2 767.8" stroke="#fb5e64" stroke-width="1.55"/>
<path d="M376.0 772.0L376.0 776.9" stroke="#fb5e64" stroke-width="1.55"/>
<path d="M376.0 776.1L452.2 776.1" stroke="#fb5e64" stroke-width="1.55"/>
<path d="M233.7 762.5L233.7 789.5" stroke="#fb5e64" stroke-width="1.55"/>
<path d="M233.7 788.7L264.0 788.7" stroke="#fb5e64" stroke-width="1.55"/>
<path d="M264.0 788.7L264.0 783.7" stroke="#fb5e64" stroke-width="1.55"/>
<path d="M264.0 784.5L452.2 784.5" stroke="#fb5e64" stroke-width="1.55"/>
<path d="M264.0 788.7L264.0 793.6" stroke="#fb5e64" stroke-width="1.55"/>
<path d="M264.0 792.9L452.2 792.9" stroke="#fb5e64" stroke-width="1.55"/>
<path d="M210.0 802.5L210.0 843.2" stroke="#fb5e64" stroke-width="1.55"/>
<path d="M210.0 842.4L241.8 842.4" stroke="#fb5e64" stroke-width="1.55"/>
<path d="M241.8 842.4L241.8 823.4" stroke="#fb5e64" stroke-width="1.55"/>
<path d="M241.8 824.2L348.7 824.2" stroke="#fb5e64" stroke-width="1.55"/>
<path d="M348.7 824.2L348.7 813.0" stroke="#fb5e64" stroke-width="1.55"/>
<path d="M348.7 813.7L369.1 813.7" stroke="#fb5e64" stroke-width="1.55"/>
<path d="M369.1 813.7L369.1 804.6" stroke="#fb5e64" stroke-width="1.55"/>
<path d="M369.1 805.4L420.6 805.4" stroke="#fb5e64" stroke-width="1.55"/>
<path d="M420.6 805.4L420.6 800.4" stroke="#fb5e64" stroke-width="1.55"/>
<path d="M420.6 801.2L452.2 801.2" stroke="#fb5e64" stroke-width="1.55"/>
<path d="M420.6 805.4L420.6 810.3" stroke="#fb5e64" stroke-width="1.55"/>
<path d="M420.6 809.6L452.2 809.6" stroke="#fb5e64" stroke-width="1.55"/>
<path d="M369.1 813.7L369.1 822.9" stroke="#fb5e64" stroke-width="1.55"/>
<path d="M369.1 822.1L385.5 822.1" stroke="#fb5e64" stroke-width="1.55"/>
<path d="M385.5 822.1L385.5 817.1" stroke="#fb5e64" stroke-width="1.55"/>
<path d="M385.5 817.9L452.2 817.9" stroke="#fb5e64" stroke-width="1.55"/>
<path d="M385.5 822.1L385.5 827.0" stroke="#fb5e64" stroke-width="1.55"/>
<path d="M385.5 826.3L452.2 826.3" stroke="#fb5e64" stroke-width="1.55"/>
<path d="M348.7 824.2L348.7 835.4" stroke="#fb5e64" stroke-width="1.55"/>
<path d="M348.7 834.6L452.2 834.6" stroke="#fb5e64" stroke-width="1.55"/>
<path d="M241.8 842.4L241.8 861.5" stroke="#fb5e64" stroke-width="1.55"/>
<path d="M241.8 860.7L296.5 860.7" stroke="#fb5e64" stroke-width="1.55"/>
<path d="M296.5 860.7L296.5 852.6" stroke="#fb5e64" stroke-width="1.55"/>
<path d="M296.5 853.4L384.5 853.4" stroke="#fb5e64" stroke-width="1.55"/>
<path d="M384.5 853.4L384.5 846.4" stroke="#fb5e64" stroke-width="1.55"/>
<path d="M384.5 847.1L400.1 847.1" stroke="#fb5e64" stroke-width="1.55"/>
<path d="M400.1 847.1L400.1 842.2" stroke="#fb5e64" stroke-width="1.55"/>
<path d="M400.1 843.0L452.2 843.0" stroke="#fb5e64" stroke-width="1.55"/>
<path d="M400.1 847.1L400.1 852.1" stroke="#fb5e64" stroke-width="1.55"/>
<path d="M400.1 851.3L452.2 851.3" stroke="#fb5e64" stroke-width="1.55"/>
<path d="M384.5 853.4L384.5 860.5" stroke="#fb5e64" stroke-width="1.55"/>
<path d="M384.5 859.7L452.2 859.7" stroke="#fb5e64" stroke-width="1.55"/>
<path d="M296.5 860.7L296.5 868.8" stroke="#fb5e64" stroke-width="1.55"/>
<path d="M296.5 868.0L452.2 868.0" stroke="#fb5e64" stroke-width="1.55"/>
<path d="M184.3 841.5L184.3 881.3" stroke="#fb5e64" stroke-width="1.55"/>
<path d="M184.3 880.6L444.0 880.6" stroke="#fb5e64" stroke-width="1.55"/>
<path d="M444.0 880.6L444.0 875.6" stroke="#fb5e64" stroke-width="1.55"/>
<path d="M444.0 876.4L452.2 876.4" stroke="#fb5e64" stroke-width="1.55"/>
<path d="M444.0 880.6L444.0 885.5" stroke="#fb5e64" stroke-width="1.55"/>
<path d="M444.0 884.7L452.2 884.7" stroke="#fb5e64" stroke-width="1.55"/>
<path d="M144.5 872.5L144.5 904.3" stroke="#fb5e64" stroke-width="1.55"/>
<path d="M144.5 903.5L185.4 903.5" stroke="#fb5e64" stroke-width="1.55"/>
<path d="M185.4 903.5L185.4 896.5" stroke="#fb5e64" stroke-width="1.55"/>
<path d="M185.4 897.3L391.4 897.3" stroke="#fb5e64" stroke-width="1.55"/>
<path d="M391.4 897.3L391.4 892.3" stroke="#fb5e64" stroke-width="1.55"/>
<path d="M391.4 893.1L452.2 893.1" stroke="#fb5e64" stroke-width="1.55"/>
<path d="M391.4 897.3L391.4 902.2" stroke="#fb5e64" stroke-width="1.55"/>
<path d="M391.4 901.4L452.2 901.4" stroke="#fb5e64" stroke-width="1.55"/>
<path d="M185.4 903.5L185.4 910.6" stroke="#fb5e64" stroke-width="1.55"/>
<path d="M185.4 909.8L452.2 909.8" stroke="#fb5e64" stroke-width="1.55"/>
<path d="M91.2 924.5L91.2 1183.0" stroke="#fb5e64" stroke-width="1.55"/>
<path d="M91.2 1182.2L100.4 1182.2" stroke="#fb5e64" stroke-width="1.55"/>
<path d="M100.4 1182.2L100.4 1114.0" stroke="#fb5e64" stroke-width="1.55"/>
<path d="M100.4 1114.8L127.4 1114.8" stroke="#fb5e64" stroke-width="1.55"/>
<path d="M127.4 1114.8L127.4 1053.8" stroke="#fb5e64" stroke-width="1.55"/>
<path d="M127.4 1054.6L139.0 1054.6" stroke="#fb5e64" stroke-width="1.55"/>
<path d="M139.0 1054.6L139.0 996.5" stroke="#fb5e64" stroke-width="1.55"/>
<path d="M139.0 997.2L212.5 997.2" stroke="#fb5e64" stroke-width="1.55"/>
<path d="M212.5 997.2L212.5 959.1" stroke="#fb5e64" stroke-width="1.55"/>
<path d="M212.5 959.9L271.0 959.9" stroke="#fb5e64" stroke-width="1.55"/>
<path d="M271.0 959.9L271.0 940.3" stroke="#fb5e64" stroke-width="1.55"/>
<path d="M271.0 941.1L323.5 941.1" stroke="#fb5e64" stroke-width="1.55"/>
<path d="M323.5 941.1L323.5 927.8" stroke="#fb5e64" stroke-width="1.55"/>
<path d="M323.5 928.6L414.4 928.6" stroke="#fb5e64" stroke-width="1.55"/>
<path d="M414.4 928.6L414.4 921.5" stroke="#fb5e64" stroke-width="1.55"/>
<path d="M414.4 922.3L421.7 922.3" stroke="#fb5e64" stroke-width="1.55"/>
<path d="M421.7 922.3L421.7 917.4" stroke="#fb5e64" stroke-width="1.55"/>
<path d="M421.7 918.1L452.2 918.1" stroke="#fb5e64" stroke-width="1.55"/>
<path d="M421.7 922.3L421.7 927.3" stroke="#fb5e64" stroke-width="1.55"/>
<path d="M421.7 926.5L452.2 926.5" stroke="#fb5e64" stroke-width="1.55"/>
<path d="M414.4 928.6L414.4 935.6" stroke="#fb5e64" stroke-width="1.55"/>
<path d="M414.4 934.8L452.2 934.8" stroke="#fb5e64" stroke-width="1.55"/>
<path d="M323.5 941.1L323.5 954.4" stroke="#fb5e64" stroke-width="1.55"/>
<path d="M323.5 953.6L410.0 953.6" stroke="#fb5e64" stroke-width="1.55"/>
<path d="M410.0 953.6L410.0 946.6" stroke="#fb5e64" stroke-width="1.55"/>
<path d="M410.0 947.4L432.6 947.4" stroke="#fb5e64" stroke-width="1.55"/>
<path d="M432.6 947.4L432.6 942.4" stroke="#fb5e64" stroke-width="1.55"/>
<path d="M432.6 943.2L452.2 943.2" stroke="#fb5e64" stroke-width="1.55"/>
<path d="M432.6 947.4L432.6 952.3" stroke="#fb5e64" stroke-width="1.55"/>
<path d="M432.6 951.6L452.2 951.6" stroke="#fb5e64" stroke-width="1.55"/>
<path d="M410.0 953.6L410.0 960.7" stroke="#fb5e64" stroke-width="1.55"/>
<path d="M410.0 959.9L452.2 959.9" stroke="#fb5e64" stroke-width="1.55"/>
<path d="M271.0 959.9L271.0 979.5" stroke="#fb5e64" stroke-width="1.55"/>
<path d="M271.0 978.7L302.3 978.7" stroke="#fb5e64" stroke-width="1.55"/>
<path d="M302.3 978.7L302.3 971.7" stroke="#fb5e64" stroke-width="1.55"/>
<path d="M302.3 972.4L446.5 972.4" stroke="#fb5e64" stroke-width="1.55"/>
<path d="M446.5 972.4L446.5 967.5" stroke="#fb5e64" stroke-width="1.55"/>
<path d="M446.5 968.3L452.2 968.3" stroke="#fb5e64" stroke-width="1.55"/>
<path d="M446.5 972.4L446.5 977.4" stroke="#fb5e64" stroke-width="1.55"/>
<path d="M446.5 976.6L452.2 976.6" stroke="#fb5e64" stroke-width="1.55"/>
<path d="M302.3 978.7L302.3 985.7" stroke="#fb5e64" stroke-width="1.55"/>
<path d="M302.3 985.0L452.2 985.0" stroke="#fb5e64" stroke-width="1.55"/>
<path d="M212.5 997.2L212.5 1035.3" stroke="#fb5e64" stroke-width="1.55"/>
<path d="M212.5 1034.6L389.2 1034.6" stroke="#fb5e64" stroke-width="1.55"/>
<path d="M389.2 1034.6L389.2 1024.9" stroke="#fb5e64" stroke-width="1.55"/>
<path d="M389.2 1025.7L414.0 1025.7" stroke="#fb5e64" stroke-width="1.55"/>
<path d="M414.0 1025.7L414.0 1015.5" stroke="#fb5e64" stroke-width="1.55"/>
<path d="M414.0 1016.3L423.1 1016.3" stroke="#fb5e64" stroke-width="1.55"/>
<path d="M423.1 1016.3L423.1 1005.1" stroke="#fb5e64" stroke-width="1.55"/>
<path d="M423.1 1005.8L433.4 1005.8" stroke="#fb5e64" stroke-width="1.55"/>
<path d="M433.4 1005.8L433.4 996.7" stroke="#fb5e64" stroke-width="1.55"/>
<path d="M433.4 997.5L440.0 997.5" stroke="#fb5e64" stroke-width="1.55"/>
<path d="M440.0 997.5L440.0 992.5" stroke="#fb5e64" stroke-width="1.55"/>
<path d="M440.0 993.3L452.2 993.3" stroke="#fb5e64" stroke-width="1.55"/>
<path d="M440.0 997.5L440.0 1002.4" stroke="#fb5e64" stroke-width="1.55"/>
<path d="M440.0 1001.7L452.2 1001.7" stroke="#fb5e64" stroke-width="1.55"/>
<path d="M433.4 1005.8L433.4 1015.0" stroke="#fb5e64" stroke-width="1.55"/>
<path d="M433.4 1014.2L444.3 1014.2" stroke="#fb5e64" stroke-width="1.55"/>
<path d="M444.3 1014.2L444.3 1009.2" stroke="#fb5e64" stroke-width="1.55"/>
<path d="M444.3 1010.0L452.2 1010.0" stroke="#fb5e64" stroke-width="1.55"/>
<path d="M444.3 1014.2L444.3 1019.2" stroke="#fb5e64" stroke-width="1.55"/>
<path d="M444.3 1018.4L452.2 1018.4" stroke="#fb5e64" stroke-width="1.55"/>
<path d="M423.1 1016.3L423.1 1027.5" stroke="#fb5e64" stroke-width="1.55"/>
<path d="M423.1 1026.7L452.2 1026.7" stroke="#fb5e64" stroke-width="1.55"/>
<path d="M414.0 1025.7L414.0 1035.9" stroke="#fb5e64" stroke-width="1.55"/>
<path d="M414.0 1035.1L452.2 1035.1" stroke="#fb5e64" stroke-width="1.55"/>
<path d="M389.2 1034.6L389.2 1044.2" stroke="#fb5e64" stroke-width="1.55"/>
<path d="M389.2 1043.4L452.2 1043.4" stroke="#fb5e64" stroke-width="1.55"/>
<path d="M139.0 1054.6L139.0 1112.7" stroke="#fb5e64" stroke-width="1.55"/>
<path d="M139.0 1112.0L196.7 1112.0" stroke="#fb5e64" stroke-width="1.55"/>
<path d="M196.7 1112.0L196.7 1092.0" stroke="#fb5e64" stroke-width="1.55"/>
<path d="M196.7 1092.8L219.2 1092.8" stroke="#fb5e64" stroke-width="1.55"/>
<path d="M219.2 1092.8L219.2 1078.7" stroke="#fb5e64" stroke-width="1.55"/>
<path d="M219.2 1079.5L255.6 1079.5" stroke="#fb5e64" stroke-width="1.55"/>
<path d="M255.6 1079.5L255.6 1068.8" stroke="#fb5e64" stroke-width="1.55"/>
<path d="M255.6 1069.5L329.7 1069.5" stroke="#fb5e64" stroke-width="1.55"/>
<path d="M329.7 1069.5L329.7 1061.5" stroke="#fb5e64" stroke-width="1.55"/>
<path d="M329.7 1062.2L340.7 1062.2" stroke="#fb5e64" stroke-width="1.55"/>
<path d="M340.7 1062.2L340.7 1055.2" stroke="#fb5e64" stroke-width="1.55"/>
<path d="M340.7 1056.0L377.9 1056.0" stroke="#fb5e64" stroke-width="1.55"/>
<path d="M377.9 1056.0L377.9 1051.0" stroke="#fb5e64" stroke-width="1.55"/>
<path d="M377.9 1051.8L452.2 1051.8" stroke="#fb5e64" stroke-width="1.55"/>
<path d="M377.9 1056.0L377.9 1060.9" stroke="#fb5e64" stroke-width="1.55"/>
<path d="M377.9 1060.1L452.2 1060.1" stroke="#fb5e64" stroke-width="1.55"/>
<path d="M340.7 1062.2L340.7 1069.3" stroke="#fb5e64" stroke-width="1.55"/>
<path d="M340.7 1068.5L452.2 1068.5" stroke="#fb5e64" stroke-width="1.55"/>
<path d="M329.7 1069.5L329.7 1077.6" stroke="#fb5e64" stroke-width="1.55"/>
<path d="M329.7 1076.8L452.2 1076.8" stroke="#fb5e64" stroke-width="1.55"/>
<path d="M255.6 1079.5L255.6 1090.1" stroke="#fb5e64" stroke-width="1.55"/>
<path d="M255.6 1089.4L369.1 1089.4" stroke="#fb5e64" stroke-width="1.55"/>
<path d="M369.1 1089.4L369.1 1084.4" stroke="#fb5e64" stroke-width="1.55"/>
<path d="M369.1 1085.2L452.2 1085.2" stroke="#fb5e64" stroke-width="1.55"/>
<path d="M369.1 1089.4L369.1 1094.3" stroke="#fb5e64" stroke-width="1.55"/>
<path d="M369.1 1093.6L452.2 1093.6" stroke="#fb5e64" stroke-width="1.55"/>
<path d="M219.2 1092.8L219.2 1106.9" stroke="#fb5e64" stroke-width="1.55"/>
<path d="M219.2 1106.1L342.1 1106.1" stroke="#fb5e64" stroke-width="1.55"/>
<path d="M342.1 1106.1L342.1 1101.1" stroke="#fb5e64" stroke-width="1.55"/>
<path d="M342.1 1101.9L452.2 1101.9" stroke="#fb5e64" stroke-width="1.55"/>
<path d="M342.1 1106.1L342.1 1111.0" stroke="#fb5e64" stroke-width="1.55"/>
<path d="M342.1 1110.3L452.2 1110.3" stroke="#fb5e64" stroke-width="1.55"/>
<path d="M196.7 1112.0L196.7 1131.9" stroke="#fb5e64" stroke-width="1.55"/>
<path d="M196.7 1131.1L286.3 1131.1" stroke="#fb5e64" stroke-width="1.55"/>
<path d="M286.3 1131.1L286.3 1122.0" stroke="#fb5e64" stroke-width="1.55"/>
<path d="M286.3 1122.8L377.2 1122.8" stroke="#fb5e64" stroke-width="1.55"/>
<path d="M377.2 1122.8L377.2 1117.8" stroke="#fb5e64" stroke-width="1.55"/>
<path d="M377.2 1118.6L452.2 1118.6" stroke="#fb5e64" stroke-width="1.55"/>
<path d="M377.2 1122.8L377.2 1127.7" stroke="#fb5e64" stroke-width="1.55"/>
<path d="M377.2 1127.0L452.2 1127.0" stroke="#fb5e64" stroke-width="1.55"/>
<path d="M286.3 1131.1L286.3 1140.3" stroke="#fb5e64" stroke-width="1.55"/>
<path d="M286.3 1139.5L393.6 1139.5" stroke="#fb5e64" stroke-width="1.55"/>
<path d="M393.6 1139.5L393.6 1134.5" stroke="#fb5e64" stroke-width="1.55"/>
<path d="M393.6 1135.3L452.2 1135.3" stroke="#fb5e64" stroke-width="1.55"/>
<path d="M393.6 1139.5L393.6 1144.4" stroke="#fb5e64" stroke-width="1.55"/>
<path d="M393.6 1143.7L452.2 1143.7" stroke="#fb5e64" stroke-width="1.55"/>
<path d="M127.4 1114.8L127.4 1175.8" stroke="#fb5e64" stroke-width="1.55"/>
<path d="M127.4 1175.0L167.5 1175.0" stroke="#fb5e64" stroke-width="1.55"/>
<path d="M167.5 1175.0L167.5 1163.8" stroke="#fb5e64" stroke-width="1.55"/>
<path d="M167.5 1164.5L186.1 1164.5" stroke="#fb5e64" stroke-width="1.55"/>
<path d="M186.1 1164.5L186.1 1155.4" stroke="#fb5e64" stroke-width="1.55"/>
<path d="M186.1 1156.2L317.3 1156.2" stroke="#fb5e64" stroke-width="1.55"/>
<path d="M317.3 1156.2L317.3 1151.2" stroke="#fb5e64" stroke-width="1.55"/>
<path d="M317.3 1152.0L452.2 1152.0" stroke="#fb5e64" stroke-width="1.55"/>
<path d="M317.3 1156.2L317.3 1161.1" stroke="#fb5e64" stroke-width="1.55"/>
<path d="M317.3 1160.4L452.2 1160.4" stroke="#fb5e64" stroke-width="1.55"/>
<path d="M186.1 1164.5L186.1 1173.7" stroke="#fb5e64" stroke-width="1.55"/>
<path d="M186.1 1172.9L444.3 1172.9" stroke="#fb5e64" stroke-width="1.55"/>
<path d="M444.3 1172.9L444.3 1168.0" stroke="#fb5e64" stroke-width="1.55"/>
<path d="M444.3 1168.7L452.2 1168.7" stroke="#fb5e64" stroke-width="1.55"/>
<path d="M444.3 1172.9L444.3 1177.9" stroke="#fb5e64" stroke-width="1.55"/>
<path d="M444.3 1177.1L452.2 1177.1" stroke="#fb5e64" stroke-width="1.55"/>
<path d="M167.5 1175.0L167.5 1186.2" stroke="#fb5e64" stroke-width="1.55"/>
<path d="M167.5 1185.4L452.2 1185.4" stroke="#fb5e64" stroke-width="1.55"/>
<path d="M100.4 1182.2L100.4 1250.4" stroke="#fb5e64" stroke-width="1.55"/>
<path d="M100.4 1249.6L112.4 1249.6" stroke="#fb5e64" stroke-width="1.55"/>
<path d="M112.4 1249.6L112.4 1227.5" stroke="#fb5e64" stroke-width="1.55"/>
<path d="M112.4 1228.2L237.7 1228.2" stroke="#fb5e64" stroke-width="1.55"/>
<path d="M237.7 1228.2L237.7 1210.8" stroke="#fb5e64" stroke-width="1.55"/>
<path d="M237.7 1211.5L255.6 1211.5" stroke="#fb5e64" stroke-width="1.55"/>
<path d="M255.6 1211.5L255.6 1203.4" stroke="#fb5e64" stroke-width="1.55"/>
<path d="M255.6 1204.2L322.0 1204.2" stroke="#fb5e64" stroke-width="1.55"/>
<path d="M322.0 1204.2L322.0 1197.2" stroke="#fb5e64" stroke-width="1.55"/>
<path d="M322.0 1198.0L349.8 1198.0" stroke="#fb5e64" stroke-width="1.55"/>
<path d="M349.8 1198.0L349.8 1193.0" stroke="#fb5e64" stroke-width="1.55"/>
<path d="M349.8 1193.8L452.2 1193.8" stroke="#fb5e64" stroke-width="1.55"/>
<path d="M349.8 1198.0L349.8 1202.9" stroke="#fb5e64" stroke-width="1.55"/>
<path d="M349.8 1202.1L452.2 1202.1" stroke="#fb5e64" stroke-width="1.55"/>
<path d="M322.0 1204.2L322.0 1211.3" stroke="#fb5e64" stroke-width="1.55"/>
<path d="M322.0 1210.5L452.2 1210.5" stroke="#fb5e64" stroke-width="1.55"/>
<path d="M255.6 1211.5L255.6 1219.6" stroke="#fb5e64" stroke-width="1.55"/>
<path d="M255.6 1218.8L452.2 1218.8" stroke="#fb5e64" stroke-width="1.55"/>
<path d="M237.7 1228.2L237.7 1245.7" stroke="#fb5e64" stroke-width="1.55"/>
<path d="M237.7 1244.9L278.2 1244.9" stroke="#fb5e64" stroke-width="1.55"/>
<path d="M278.2 1244.9L278.2 1236.9" stroke="#fb5e64" stroke-width="1.55"/>
<path d="M278.2 1237.6L366.2 1237.6" stroke="#fb5e64" stroke-width="1.55"/>
<path d="M366.2 1237.6L366.2 1230.6" stroke="#fb5e64" stroke-width="1.55"/>
<path d="M366.2 1231.4L387.4 1231.4" stroke="#fb5e64" stroke-width="1.55"/>
<path d="M387.4 1231.4L387.4 1226.4" stroke="#fb5e64" stroke-width="1.55"/>
<path d="M387.4 1227.2L452.2 1227.2" stroke="#fb5e64" stroke-width="1.55"/>
<path d="M387.4 1231.4L387.4 1236.3" stroke="#fb5e64" stroke-width="1.55"/>
<path d="M387.4 1235.5L452.2 1235.5" stroke="#fb5e64" stroke-width="1.55"/>
<path d="M366.2 1237.6L366.2 1244.7" stroke="#fb5e64" stroke-width="1.55"/>
<path d="M366.2 1243.9L452.2 1243.9" stroke="#fb5e64" stroke-width="1.55"/>
<path d="M278.2 1244.9L278.2 1253.0" stroke="#fb5e64" stroke-width="1.55"/>
<path d="M278.2 1252.3L452.2 1252.3" stroke="#fb5e64" stroke-width="1.55"/>
<path d="M112.4 1249.6L112.4 1271.8" stroke="#fb5e64" stroke-width="1.55"/>
<path d="M112.4 1271.0L178.8 1271.0" stroke="#fb5e64" stroke-width="1.55"/>
<path d="M178.8 1271.0L178.8 1264.0" stroke="#fb5e64" stroke-width="1.55"/>
<path d="M178.8 1264.8L366.2 1264.8" stroke="#fb5e64" stroke-width="1.55"/>
<path d="M366.2 1264.8L366.2 1259.8" stroke="#fb5e64" stroke-width="1.55"/>
<path d="M366.2 1260.6L452.2 1260.6" stroke="#fb5e64" stroke-width="1.55"/>
<path d="M366.2 1264.8L366.2 1269.7" stroke="#fb5e64" stroke-width="1.55"/>
<path d="M366.2 1269.0L452.2 1269.0" stroke="#fb5e64" stroke-width="1.55"/>
<path d="M178.8 1271.0L178.8 1278.1" stroke="#fb5e64" stroke-width="1.55"/>
<path d="M178.8 1277.3L452.2 1277.3" stroke="#fb5e64" stroke-width="1.55"/>
<path d="M81.0 1140.2L81.0 1356.6" stroke="#fb5e64" stroke-width="1.55"/>
<path d="M81.0 1355.8L106.6 1355.8" stroke="#fb5e64" stroke-width="1.55"/>
<path d="M106.6 1355.8L106.6 1339.6" stroke="#fb5e64" stroke-width="1.55"/>
<path d="M106.6 1340.3L292.8 1340.3" stroke="#fb5e64" stroke-width="1.55"/>
<path d="M292.8 1340.3L292.8 1327.4" stroke="#fb5e64" stroke-width="1.55"/>
<path d="M292.8 1328.2L308.9 1328.2" stroke="#fb5e64" stroke-width="1.55"/>
<path d="M308.9 1328.2L308.9 1315.7" stroke="#fb5e64" stroke-width="1.55"/>
<path d="M308.9 1316.5L416.2 1316.5" stroke="#fb5e64" stroke-width="1.55"/>
<path d="M416.2 1316.5L416.2 1304.7" stroke="#fb5e64" stroke-width="1.55"/>
<path d="M416.2 1305.5L423.1 1305.5" stroke="#fb5e64" stroke-width="1.55"/>
<path d="M423.1 1305.5L423.1 1295.3" stroke="#fb5e64" stroke-width="1.55"/>
<path d="M423.1 1296.1L437.7 1296.1" stroke="#fb5e64" stroke-width="1.55"/>
<path d="M437.7 1296.1L437.7 1289.1" stroke="#fb5e64" stroke-width="1.55"/>
<path d="M437.7 1289.8L445.4 1289.8" stroke="#fb5e64" stroke-width="1.55"/>
<path d="M445.4 1289.8L445.4 1284.9" stroke="#fb5e64" stroke-width="1.55"/>
<path d="M445.4 1285.7L452.2 1285.7" stroke="#fb5e64" stroke-width="1.55"/>
<path d="M445.4 1289.8L445.4 1294.8" stroke="#fb5e64" stroke-width="1.55"/>
<path d="M445.4 1294.0L452.2 1294.0" stroke="#fb5e64" stroke-width="1.55"/>
<path d="M437.7 1296.1L437.7 1303.1" stroke="#fb5e64" stroke-width="1.55"/>
<path d="M437.7 1302.4L452.2 1302.4" stroke="#fb5e64" stroke-width="1.55"/>
<path d="M423.1 1305.5L423.1 1315.7" stroke="#fb5e64" stroke-width="1.55"/>
<path d="M423.1 1314.9L427.9 1314.9" stroke="#fb5e64" stroke-width="1.55"/>
<path d="M427.9 1314.9L427.9 1309.9" stroke="#fb5e64" stroke-width="1.55"/>
<path d="M427.9 1310.7L452.2 1310.7" stroke="#fb5e64" stroke-width="1.55"/>
<path d="M427.9 1314.9L427.9 1319.8" stroke="#fb5e64" stroke-width="1.55"/>
<path d="M427.9 1319.1L452.2 1319.1" stroke="#fb5e64" stroke-width="1.55"/>
<path d="M416.2 1316.5L416.2 1328.2" stroke="#fb5e64" stroke-width="1.55"/>
<path d="M416.2 1327.4L452.2 1327.4" stroke="#fb5e64" stroke-width="1.55"/>
<path d="M308.9 1328.2L308.9 1340.7" stroke="#fb5e64" stroke-width="1.55"/>
<path d="M308.9 1340.0L362.6 1340.0" stroke="#fb5e64" stroke-width="1.55"/>
<path d="M362.6 1340.0L362.6 1335.0" stroke="#fb5e64" stroke-width="1.55"/>
<path d="M362.6 1335.8L452.2 1335.8" stroke="#fb5e64" stroke-width="1.55"/>
<path d="M362.6 1340.0L362.6 1344.9" stroke="#fb5e64" stroke-width="1.55"/>
<path d="M362.6 1344.1L452.2 1344.1" stroke="#fb5e64" stroke-width="1.55"/>
<path d="M292.8 1340.3L292.8 1353.3" stroke="#fb5e64" stroke-width="1.55"/>
<path d="M292.8 1352.5L452.2 1352.5" stroke="#fb5e64" stroke-width="1.55"/>
<path d="M106.6 1355.8L106.6 1372.1" stroke="#fb5e64" stroke-width="1.55"/>
<path d="M106.6 1371.3L290.7 1371.3" stroke="#fb5e64" stroke-width="1.55"/>
<path d="M290.7 1371.3L290.7 1364.2" stroke="#fb5e64" stroke-width="1.55"/>
<path d="M290.7 1365.0L320.6 1365.0" stroke="#fb5e64" stroke-width="1.55"/>
<path d="M320.6 1365.0L320.6 1360.1" stroke="#fb5e64" stroke-width="1.55"/>
<path d="M320.6 1360.8L452.2 1360.8" stroke="#fb5e64" stroke-width="1.55"/>
<path d="M320.6 1365.0L320.6 1370.0" stroke="#fb5e64" stroke-width="1.55"/>
<path d="M320.6 1369.2L452.2 1369.2" stroke="#fb5e64" stroke-width="1.55"/>
<path d="M290.7 1371.3L290.7 1378.3" stroke="#fb5e64" stroke-width="1.55"/>
<path d="M290.7 1377.5L452.2 1377.5" stroke="#fb5e64" stroke-width="1.55"/>
<path d="M75.5 1263.0L75.5 1386.7" stroke="#fb5e64" stroke-width="1.55"/>
<path d="M75.5 1385.9L452.2 1385.9" stroke="#fb5e64" stroke-width="1.55"/>
<path d="M65.0 1333.9L65.0 1405.5" stroke="#fb5e64" stroke-width="1.55"/>
<path d="M65.0 1404.7L130.3 1404.7" stroke="#fb5e64" stroke-width="1.55"/>
<path d="M130.3 1404.7L130.3 1397.6" stroke="#fb5e64" stroke-width="1.55"/>
<path d="M130.3 1398.4L368.4 1398.4" stroke="#fb5e64" stroke-width="1.55"/>
<path d="M368.4 1398.4L368.4 1393.5" stroke="#fb5e64" stroke-width="1.55"/>
<path d="M368.4 1394.2L452.2 1394.2" stroke="#fb5e64" stroke-width="1.55"/>
<path d="M368.4 1398.4L368.4 1403.4" stroke="#fb5e64" stroke-width="1.55"/>
<path d="M368.4 1402.6L452.2 1402.6" stroke="#fb5e64" stroke-width="1.55"/>
<path d="M130.3 1404.7L130.3 1411.7" stroke="#fb5e64" stroke-width="1.55"/>
<path d="M130.3 1411.0L452.2 1411.0" stroke="#fb5e64" stroke-width="1.55"/>
<path d="M55.8 1376.6L55.8 1420.1" stroke="#fb5e64" stroke-width="1.55"/>
<path d="M55.8 1419.3L452.2 1419.3" stroke="#fb5e64" stroke-width="1.55"/>
<path d="M49.3 1404.2L49.3 1432.6" stroke="#14ac22" stroke-width="1.55"/>
<path d="M49.3 1431.8L125.2 1431.8" stroke="#14ac22" stroke-width="1.55"/>
<path d="M125.2 1431.8L125.2 1426.9" stroke="#14ac22" stroke-width="1.55"/>
<path d="M125.2 1427.7L452.2 1427.7" stroke="#14ac22" stroke-width="1.55"/>
<path d="M125.2 1431.8L125.2 1436.8" stroke="#14ac22" stroke-width="1.55"/>
<path d="M125.2 1436.0L452.2 1436.0" stroke="#14ac22" stroke-width="1.55"/>
<path d="M42.7 1565.4L42.7 1727.5" stroke="#000" stroke-width="1.55"/>
<path d="M42.7 1726.7L80.7 1726.7" stroke="#000" stroke-width="1.55"/>
<path d="M80.7 1726.7L80.7 1705.5" stroke="#14ac22" stroke-width="1.55"/>
<path d="M80.7 1706.2L156.2 1706.2" stroke="#14ac22" stroke-width="1.55"/>
<path d="M156.2 1706.2L156.2 1687.5" stroke="#14ac22" stroke-width="1.55"/>
<path d="M156.2 1688.3L182.5 1688.3" stroke="#14ac22" stroke-width="1.55"/>
<path d="M182.5 1688.3L182.5 1668.3" stroke="#14ac22" stroke-width="1.55"/>
<path d="M182.5 1669.1L202.6 1669.1" stroke="#14ac22" stroke-width="1.55"/>
<path d="M202.6 1669.1L202.6 1646.6" stroke="#14ac22" stroke-width="1.55"/>
<path d="M202.6 1647.4L225.5 1647.4" stroke="#14ac22" stroke-width="1.55"/>
<path d="M225.5 1647.4L225.5 1623.1" stroke="#14ac22" stroke-width="1.55"/>
<path d="M225.5 1623.8L264.7 1623.8" stroke="#14ac22" stroke-width="1.55"/>
<path d="M264.7 1623.8L264.7 1606.2" stroke="#14ac22" stroke-width="1.55"/>
<path d="M264.7 1607.0L282.6 1607.0" stroke="#14ac22" stroke-width="1.55"/>
<path d="M282.6 1607.0L282.6 1589.3" stroke="#14ac22" stroke-width="1.55"/>
<path d="M282.6 1590.1L300.1 1590.1" stroke="#14ac22" stroke-width="1.55"/>
<path d="M300.1 1590.1L300.1 1567.9" stroke="#14ac22" stroke-width="1.55"/>
<path d="M300.1 1568.7L315.8 1568.7" stroke="#14ac22" stroke-width="1.55"/>
<path d="M315.8 1568.7L315.8 1547.1" stroke="#14ac22" stroke-width="1.55"/>
<path d="M315.8 1547.9L353.9 1547.9" stroke="#14ac22" stroke-width="1.55"/>
<path d="M353.9 1547.9L353.9 1533.8" stroke="#14ac22" stroke-width="1.55"/>
<path d="M353.9 1534.5L360.7 1534.5" stroke="#14ac22" stroke-width="1.55"/>
<path d="M360.7 1534.5L360.7 1515.4" stroke="#14ac22" stroke-width="1.55"/>
<path d="M360.7 1516.1L364.7 1516.1" stroke="#14ac22" stroke-width="1.55"/>
<path d="M364.7 1516.1L364.7 1494.2" stroke="#14ac22" stroke-width="1.55"/>
<path d="M364.7 1495.0L373.3 1495.0" stroke="#14ac22" stroke-width="1.55"/>
<path d="M373.3 1495.0L373.3 1478.0" stroke="#14ac22" stroke-width="1.55"/>
<path d="M373.3 1478.8L378.2 1478.8" stroke="#14ac22" stroke-width="1.55"/>
<path d="M378.2 1478.8L378.2 1461.3" stroke="#14ac22" stroke-width="1.55"/>
<path d="M378.2 1462.1L406.7 1462.1" stroke="#14ac22" stroke-width="1.55"/>
<path d="M406.7 1462.1L406.7 1454.0" stroke="#14ac22" stroke-width="1.55"/>
<path d="M406.7 1454.8L447.2 1454.8" stroke="#14ac22" stroke-width="1.55"/>
<path d="M447.2 1454.8L447.2 1447.8" stroke="#14ac22" stroke-width="1.55"/>
<path d="M447.2 1448.5L449.8 1448.5" stroke="#14ac22" stroke-width="1.55"/>
<path d="M449.8 1448.5L449.8 1443.6" stroke="#14ac22" stroke-width="1.55"/>
<path d="M449.8 1444.4L452.2 1444.4" stroke="#14ac22" stroke-width="1.55"/>
<path d="M449.8 1448.5L449.8 1453.5" stroke="#14ac22" stroke-width="1.55"/>
<path d="M449.8 1452.7L452.2 1452.7" stroke="#14ac22" stroke-width="1.55"/>
<path d="M447.2 1454.8L447.2 1461.8" stroke="#14ac22" stroke-width="1.55"/>
<path d="M447.2 1461.1L452.2 1461.1" stroke="#14ac22" stroke-width="1.55"/>
<path d="M406.7 1462.1L406.7 1470.2" stroke="#14ac22" stroke-width="1.55"/>
<path d="M406.7 1469.4L452.2 1469.4" stroke="#14ac22" stroke-width="1.55"/>
<path d="M378.2 1478.8L378.2 1496.3" stroke="#14ac22" stroke-width="1.55"/>
<path d="M378.2 1495.5L384.5 1495.5" stroke="#14ac22" stroke-width="1.55"/>
<path d="M384.5 1495.5L384.5 1487.4" stroke="#14ac22" stroke-width="1.55"/>
<path d="M384.5 1488.2L396.1 1488.2" stroke="#14ac22" stroke-width="1.55"/>
<path d="M396.1 1488.2L396.1 1481.2" stroke="#14ac22" stroke-width="1.55"/>
<path d="M396.1 1482.0L403.8 1482.0" stroke="#14ac22" stroke-width="1.55"/>
<path d="M403.8 1482.0L403.8 1477.0" stroke="#14ac22" stroke-width="1.55"/>
<path d="M403.8 1477.8L452.2 1477.8" stroke="#14ac22" stroke-width="1.55"/>
<path d="M403.8 1482.0L403.8 1486.9" stroke="#14ac22" stroke-width="1.55"/>
<path d="M403.8 1486.1L452.2 1486.1" stroke="#14ac22" stroke-width="1.55"/>
<path d="M396.1 1488.2L396.1 1495.3" stroke="#14ac22" stroke-width="1.55"/>
<path d="M396.1 1494.5L452.2 1494.5" stroke="#14ac22" stroke-width="1.55"/>
<path d="M384.5 1495.5L384.5 1503.6" stroke="#14ac22" stroke-width="1.55"/>
<path d="M384.5 1502.8L452.2 1502.8" stroke="#14ac22" stroke-width="1.55"/>
<path d="M373.3 1495.0L373.3 1512.0" stroke="#14ac22" stroke-width="1.55"/>
<path d="M373.3 1511.2L452.2 1511.2" stroke="#14ac22" stroke-width="1.55"/>
<path d="M364.7 1516.1L364.7 1538.1" stroke="#14ac22" stroke-width="1.55"/>
<path d="M364.7 1537.3L373.3 1537.3" stroke="#14ac22" stroke-width="1.55"/>
<path d="M373.3 1537.3L373.3 1529.2" stroke="#14ac22" stroke-width="1.55"/>
<path d="M373.3 1530.0L379.2 1530.0" stroke="#14ac22" stroke-width="1.55"/>
<path d="M379.2 1530.0L379.2 1522.9" stroke="#14ac22" stroke-width="1.55"/>
<path d="M379.2 1523.7L433.4 1523.7" stroke="#14ac22" stroke-width="1.55"/>
<path d="M433.4 1523.7L433.4 1518.8" stroke="#14ac22" stroke-width="1.55"/>
<path d="M433.4 1519.5L452.2 1519.5" stroke="#14ac22" stroke-width="1.55"/>
<path d="M433.4 1523.7L433.4 1528.7" stroke="#14ac22" stroke-width="1.55"/>
<path d="M433.4 1527.9L452.2 1527.9" stroke="#14ac22" stroke-width="1.55"/>
<path d="M379.2 1530.0L379.2 1537.0" stroke="#14ac22" stroke-width="1.55"/>
<path d="M379.2 1536.2L452.2 1536.2" stroke="#14ac22" stroke-width="1.55"/>
<path d="M373.3 1537.3L373.3 1545.4" stroke="#14ac22" stroke-width="1.55"/>
<path d="M373.3 1544.6L452.2 1544.6" stroke="#14ac22" stroke-width="1.55"/>
<path d="M360.7 1534.5L360.7 1553.7" stroke="#14ac22" stroke-width="1.55"/>
<path d="M360.7 1552.9L452.2 1552.9" stroke="#14ac22" stroke-width="1.55"/>
<path d="M353.9 1547.9L353.9 1562.1" stroke="#14ac22" stroke-width="1.55"/>
<path d="M353.9 1561.3L452.2 1561.3" stroke="#14ac22" stroke-width="1.55"/>
<path d="M315.8 1568.7L315.8 1590.3" stroke="#14ac22" stroke-width="1.55"/>
<path d="M315.8 1589.5L340.7 1589.5" stroke="#14ac22" stroke-width="1.55"/>
<path d="M340.7 1589.5L340.7 1579.3" stroke="#14ac22" stroke-width="1.55"/>
<path d="M340.7 1580.1L410.7 1580.1" stroke="#14ac22" stroke-width="1.55"/>
<path d="M410.7 1580.1L410.7 1573.1" stroke="#14ac22" stroke-width="1.55"/>
<path d="M410.7 1573.8L426.8 1573.8" stroke="#14ac22" stroke-width="1.55"/>
<path d="M426.8 1573.8L426.8 1568.9" stroke="#14ac22" stroke-width="1.55"/>
<path d="M426.8 1569.7L452.2 1569.7" stroke="#14ac22" stroke-width="1.55"/>
<path d="M426.8 1573.8L426.8 1578.8" stroke="#14ac22" stroke-width="1.55"/>
<path d="M426.8 1578.0L452.2 1578.0" stroke="#14ac22" stroke-width="1.55"/>
<path d="M410.7 1580.1L410.7 1587.1" stroke="#14ac22" stroke-width="1.55"/>
<path d="M410.7 1586.4L452.2 1586.4" stroke="#14ac22" stroke-width="1.55"/>
<path d="M340.7 1589.5L340.7 1599.7" stroke="#14ac22" stroke-width="1.55"/>
<path d="M340.7 1598.9L450.9 1598.9" stroke="#14ac22" stroke-width="1.55"/>
<path d="M450.9 1598.9L450.9 1593.9" stroke="#14ac22" stroke-width="1.55"/>
<path d="M450.9 1594.7L452.2 1594.7" stroke="#14ac22" stroke-width="1.55"/>
<path d="M450.9 1598.9L450.9 1603.8" stroke="#14ac22" stroke-width="1.55"/>
<path d="M450.9 1603.1L452.2 1603.1" stroke="#14ac22" stroke-width="1.55"/>
<path d="M300.1 1590.1L300.1 1612.2" stroke="#14ac22" stroke-width="1.55"/>
<path d="M300.1 1611.4L452.2 1611.4" stroke="#14ac22" stroke-width="1.55"/>
<path d="M282.6 1607.0L282.6 1624.7" stroke="#14ac22" stroke-width="1.55"/>
<path d="M282.6 1623.9L371.3 1623.9" stroke="#14ac22" stroke-width="1.55"/>
<path d="M371.3 1623.9L371.3 1619.0" stroke="#14ac22" stroke-width="1.55"/>
<path d="M371.3 1619.8L452.2 1619.8" stroke="#14ac22" stroke-width="1.55"/>
<path d="M371.3 1623.9L371.3 1628.9" stroke="#14ac22" stroke-width="1.55"/>
<path d="M371.3 1628.1L452.2 1628.1" stroke="#14ac22" stroke-width="1.55"/>
<path d="M264.7 1623.8L264.7 1641.4" stroke="#14ac22" stroke-width="1.55"/>
<path d="M264.7 1640.7L340.7 1640.7" stroke="#14ac22" stroke-width="1.55"/>
<path d="M340.7 1640.7L340.7 1635.7" stroke="#14ac22" stroke-width="1.55"/>
<path d="M340.7 1636.5L452.2 1636.5" stroke="#14ac22" stroke-width="1.55"/>
<path d="M340.7 1640.7L340.7 1645.6" stroke="#14ac22" stroke-width="1.55"/>
<path d="M340.7 1644.8L452.2 1644.8" stroke="#14ac22" stroke-width="1.55"/>
<path d="M225.5 1647.4L225.5 1671.7" stroke="#14ac22" stroke-width="1.55"/>
<path d="M225.5 1670.9L343.2 1670.9" stroke="#14ac22" stroke-width="1.55"/>
<path d="M343.2 1670.9L343.2 1662.8" stroke="#14ac22" stroke-width="1.55"/>
<path d="M343.2 1663.6L406.7 1663.6" stroke="#14ac22" stroke-width="1.55"/>
<path d="M406.7 1663.6L406.7 1656.6" stroke="#14ac22" stroke-width="1.55"/>
<path d="M406.7 1657.4L414.0 1657.4" stroke="#14ac22" stroke-width="1.55"/>
<path d="M414.0 1657.4L414.0 1652.4" stroke="#14ac22" stroke-width="1.55"/>
<path d="M414.0 1653.2L452.2 1653.2" stroke="#14ac22" stroke-width="1.55"/>
<path d="M414.0 1657.4L414.0 1662.3" stroke="#14ac22" stroke-width="1.55"/>
<path d="M414.0 1661.5L452.2 1661.5" stroke="#14ac22" stroke-width="1.55"/>
<path d="M406.7 1663.6L406.7 1670.7" stroke="#14ac22" stroke-width="1.55"/>
<path d="M406.7 1669.9L452.2 1669.9" stroke="#14ac22" stroke-width="1.55"/>
<path d="M343.2 1670.9L343.2 1679.0" stroke="#14ac22" stroke-width="1.55"/>
<path d="M343.2 1678.2L452.2 1678.2" stroke="#14ac22" stroke-width="1.55"/>
<path d="M202.6 1669.1L202.6 1691.5" stroke="#14ac22" stroke-width="1.55"/>
<path d="M202.6 1690.8L333.7 1690.8" stroke="#14ac22" stroke-width="1.55"/>
<path d="M333.7 1690.8L333.7 1685.8" stroke="#14ac22" stroke-width="1.55"/>
<path d="M333.7 1686.6L452.2 1686.6" stroke="#14ac22" stroke-width="1.55"/>
<path d="M333.7 1690.8L333.7 1695.7" stroke="#14ac22" stroke-width="1.55"/>
<path d="M333.7 1694.9L452.2 1694.9" stroke="#14ac22" stroke-width="1.55"/>
<path d="M182.5 1688.3L182.5 1708.2" stroke="#14ac22" stroke-width="1.55"/>
<path d="M182.5 1707.5L396.1 1707.5" stroke="#14ac22" stroke-width="1.55"/>
<path d="M396.1 1707.5L396.1 1702.5" stroke="#14ac22" stroke-width="1.55"/>
<path d="M396.1 1703.3L452.2 1703.3" stroke="#14ac22" stroke-width="1.55"/>
<path d="M396.1 1707.5L396.1 1712.4" stroke="#14ac22" stroke-width="1.55"/>
<path d="M396.1 1711.7L452.2 1711.7" stroke="#14ac22" stroke-width="1.55"/>
<path d="M156.2 1706.2L156.2 1725.0" stroke="#14ac22" stroke-width="1.55"/>
<path d="M156.2 1724.2L402.0 1724.2" stroke="#14ac22" stroke-width="1.55"/>
<path d="M402.0 1724.2L402.0 1719.2" stroke="#14ac22" stroke-width="1.55"/>
<path d="M402.0 1720.0L452.2 1720.0" stroke="#14ac22" stroke-width="1.55"/>
<path d="M402.0 1724.2L402.0 1729.1" stroke="#14ac22" stroke-width="1.55"/>
<path d="M402.0 1728.4L452.2 1728.4" stroke="#14ac22" stroke-width="1.55"/>
<path d="M80.7 1726.7L80.7 1747.9" stroke="#fb5e64" stroke-width="1.55"/>
<path d="M80.7 1747.1L234.8 1747.1" stroke="#fb5e64" stroke-width="1.55"/>
<path d="M234.8 1747.1L234.8 1740.1" stroke="#fb5e64" stroke-width="1.55"/>
<path d="M234.8 1740.9L371.7 1740.9" stroke="#fb5e64" stroke-width="1.55"/>
<path d="M371.7 1740.9L371.7 1735.9" stroke="#fb5e64" stroke-width="1.55"/>
<path d="M371.7 1736.7L452.2 1736.7" stroke="#fb5e64" stroke-width="1.55"/>
<path d="M371.7 1740.9L371.7 1745.8" stroke="#fb5e64" stroke-width="1.55"/>
<path d="M371.7 1745.1L452.2 1745.1" stroke="#fb5e64" stroke-width="1.55"/>
<path d="M234.8 1747.1L234.8 1754.2" stroke="#fb5e64" stroke-width="1.55"/>
<path d="M234.8 1753.4L452.2 1753.4" stroke="#fb5e64" stroke-width="1.55"/>
<path d="M42.7 1565.4H8.8V1757" stroke="#000" stroke-width="1.45"/>
<path d="M1.8 1757.3H15.8L8.8 1767.6Z" stroke="#000" stroke-width="1.3" fill="#fff"/>
</g>
<polygon points="300.50,48.23 301.70,50.68 304.40,51.07 302.45,52.97 302.91,55.65 300.50,54.38 298.09,55.65 298.55,52.97 296.60,51.07 299.30,50.68" fill="#74c6d6"/>
<polygon points="230.00,141.53 231.20,143.98 233.90,144.37 231.95,146.27 232.41,148.95 230.00,147.68 227.59,148.95 228.05,146.27 226.10,144.37 228.80,143.98" fill="#74c6d6"/>
<polygon points="423.50,1012.19 424.70,1014.63 427.40,1015.02 425.45,1016.92 425.91,1019.61 423.50,1018.34 421.09,1019.61 421.55,1016.92 419.60,1015.02 422.30,1014.63" fill="#74c6d6"/>
<polygon points="341.10,1058.13 342.30,1060.57 345.00,1060.96 343.05,1062.86 343.51,1065.55 341.10,1064.28 338.69,1065.55 339.15,1062.86 337.20,1060.96 339.90,1060.57" fill="#74c6d6"/>
<polygon points="186.50,1160.45 187.70,1162.89 190.40,1163.28 188.45,1165.18 188.91,1167.87 186.50,1166.60 184.09,1167.87 184.55,1165.18 182.60,1163.28 185.30,1162.89" fill="#74c6d6"/>
<polygon points="49.70,1400.11 50.90,1402.55 53.60,1402.94 51.65,1404.84 52.11,1407.53 49.70,1406.26 47.29,1407.53 47.75,1404.84 45.80,1402.94 48.50,1402.55" fill="#74c6d6"/>
<polygon points="414.40,1653.26 415.60,1655.70 418.30,1656.09 416.35,1657.99 416.81,1660.68 414.40,1659.41 411.99,1660.68 412.45,1657.99 410.50,1656.09 413.20,1655.70" fill="#74c6d6"/>
<g font-family="Liberation Sans, sans-serif" font-size="6.0" letter-spacing="0.28" fill="#111">
<text x="403.7" y="13.9">100/25</text>
<text x="388.5" y="22.1">100/30</text>
<text x="371.7" y="28.9">100/38</text>
<text x="423.8" y="47.3">100/16</text>
<text x="368.0" y="53.6">100/42</text>
<text x="336.9" y="40.5">100/56</text>
<text x="296.7" y="50.3" text-anchor="end">79/69</text>
<text x="291.4" y="61.4" text-anchor="end">100/73</text>
<text x="273.2" y="71.2" text-anchor="end">100/81</text>
<text x="444.7" y="93.4" text-anchor="end">100/2</text>
<text x="408.5" y="103.7">100/23</text>
<text x="447.6" y="118.5" text-anchor="end">100/1</text>
<text x="352.6" y="113.1">100/49</text>
<text x="312.1" y="124.0">100/68</text>
<text x="380.7" y="147.5">100/36</text>
<text x="318.7" y="153.8">100/65</text>
<text x="295.7" y="138.9">100/75</text>
<text x="266.9" y="107.0">100/88</text>
<text x="295.7" y="172.6">100/75</text>
<text x="266.1" y="178.8">100/89</text>
<text x="423.8" y="197.6">100/16</text>
<text x="253.8" y="188.2">100/ 94</text>
<text x="233.9" y="147.6">66/102</text>
<text x="402.6" y="214.3">100/26</text>
<text x="220.5" y="177.0" text-anchor="end">100/106</text>
<text x="290.2" y="231.0">100/78</text>
<text x="211.7" y="202.0" text-anchor="end">100/119</text>
<text x="436.7" y="243.8" text-anchor="end">100/6</text>
<text x="347.9" y="254.0">100/51</text>
<text x="318.7" y="261.3">100/65</text>
<text x="340.6" y="281.2">100/55</text>
<text x="324.6" y="288.9">100/61</text>
<text x="298.6" y="294.7">100/71</text>
<text x="256.6" y="278.0">100/93</text>
<text x="433.8" y="310.6" text-anchor="end">100/8</text>
<text x="416.5" y="323.3">100/19</text>
<text x="187.2" y="299.4">100/125</text>
<text x="172.9" y="252.7">100/132</text>
<text x="238.4" y="339.6">100/101</text>
<text x="190.1" y="345.9">100/124</text>
<text x="149.7" y="295.3" text-anchor="end">100/138</text>
<text x="435.6" y="360.7" text-anchor="end">100/7</text>
<text x="433.8" y="385.4" text-anchor="end">84/8</text>
<text x="428.3" y="369.0" text-anchor="end">100/10</text>
<text x="414.3" y="398.1">100/21</text>
<text x="346.1" y="385.6">100/52</text>
<text x="405.5" y="414.8">100/24</text>
<text x="354.8" y="421.1">100/46</text>
<text x="336.9" y="429.9">100/ 54</text>
<text x="315.7" y="438.4">100/ 63</text>
<text x="309.6" y="410.9">100/ 67</text>
<text x="284.8" y="431.6">100/77</text>
<text x="263.3" y="442.2" text-anchor="end">100/86</text>
<text x="146.3" y="372.8">100/144</text>
<text x="444.0" y="469.3" text-anchor="end">100/3</text>
<text x="411.4" y="479.5">100/22</text>
<text x="380.7" y="498.3">100/36</text>
<text x="342.1" y="488.9">100/54</text>
<text x="370.2" y="515.0">100/41</text>
<text x="320.9" y="502.0">100/64</text>
<text x="335.8" y="531.7">100/57</text>
<text x="294.6" y="519.1">100/74</text>
<text x="268.3" y="530.6">100/88</text>
<text x="242.9" y="537.6" text-anchor="end">100/95</text>
<text x="235.8" y="565.2">100/103</text>
<text x="149.9" y="553.4">100/142</text>
<text x="129.1" y="463.1">100/152</text>
<text x="409.2" y="581.9">100/23</text>
<text x="412.9" y="598.6">100/ 20</text>
<text x="391.0" y="590.2">100/31</text>
<text x="373.6" y="596.7" text-anchor="end">100/35</text>
<text x="350.9" y="606.1" text-anchor="end">100/46</text>
<text x="417.6" y="632.0">100/19</text>
<text x="334.5" y="617.0" text-anchor="end">100/53</text>
<text x="372.0" y="648.7">100/40</text>
<text x="336.6" y="634.8">100/57</text>
<text x="303.0" y="648.0">100/ 71</text>
<text x="405.2" y="673.7">100/25</text>
<text x="378.9" y="680.0">100/37</text>
<text x="349.0" y="687.3">100/ 50</text>
<text x="293.5" y="667.7">100/76</text>
<text x="419.1" y="707.2">100/19</text>
<text x="365.8" y="713.4">100/43</text>
<text x="339.1" y="720.7">100/55</text>
<text x="399.7" y="740.6">100/ 26</text>
<text x="371.6" y="746.8">100/40</text>
<text x="347.3" y="750.1" text-anchor="end">100/47</text>
<text x="316.1" y="737.4">100/66</text>
<text x="289.5" y="702.5">100/78</text>
<text x="383.6" y="774.0">100/35</text>
<text x="256.6" y="738.3">100/93</text>
<text x="271.6" y="790.7">100/86</text>
<text x="241.3" y="764.5">100/100</text>
<text x="428.2" y="807.4">100/14</text>
<text x="391.3" y="824.1">100/ 30</text>
<text x="376.7" y="815.7">100/38</text>
<text x="356.3" y="826.2">100/47</text>
<text x="407.7" y="849.1">100/24</text>
<text x="392.1" y="855.4">100/31</text>
<text x="304.1" y="862.7">100/71</text>
<text x="249.4" y="844.4">100/96</text>
<text x="217.6" y="804.5">100/111</text>
<text x="442.6" y="878.6" text-anchor="end">100/4</text>
<text x="182.9" y="839.5" text-anchor="end">100/123</text>
<text x="399.0" y="899.3">100/28</text>
<text x="193.0" y="905.5">100/122</text>
<text x="152.1" y="874.5">100/141</text>
<text x="120.0" y="668.8">100/156</text>
<text x="429.3" y="924.3">100/14</text>
<text x="422.0" y="930.6">100/17</text>
<text x="431.2" y="945.4" text-anchor="end">100/9</text>
<text x="408.6" y="951.6" text-anchor="end">100/19</text>
<text x="331.1" y="943.1">100/59</text>
<text x="445.1" y="970.4" text-anchor="end">100/2</text>
<text x="309.9" y="980.7">100/69</text>
<text x="278.6" y="961.9">100/83</text>
<text x="438.6" y="995.5" text-anchor="end">100/5</text>
<text x="444.0" y="1020.2" text-anchor="end">100/3</text>
<text x="432.0" y="1003.8" text-anchor="end">100/8</text>
<text x="419.7" y="1014.3" text-anchor="end">95/13</text>
<text x="412.6" y="1023.7" text-anchor="end">100/17</text>
<text x="387.8" y="1032.6" text-anchor="end">100/29</text>
<text x="220.1" y="999.2">100/110</text>
<text x="385.5" y="1058.0">100/34</text>
<text x="337.3" y="1060.2" text-anchor="end">99/51</text>
<text x="328.3" y="1067.5" text-anchor="end">100/56</text>
<text x="376.7" y="1091.4">100/38</text>
<text x="263.2" y="1081.5">100/90</text>
<text x="349.7" y="1108.1">100/50</text>
<text x="226.8" y="1094.8">100/107</text>
<text x="384.8" y="1124.8">100/34</text>
<text x="401.2" y="1141.5">100/26</text>
<text x="293.9" y="1133.1">100/76</text>
<text x="204.3" y="1114.0">100/117</text>
<text x="146.6" y="1056.6">100/144</text>
<text x="324.9" y="1158.2">100/62</text>
<text x="442.9" y="1170.9" text-anchor="end">100/4</text>
<text x="182.7" y="1162.5" text-anchor="end">71/122</text>
<text x="171.1" y="1180.5">100/131</text>
<text x="133.2" y="1119.5">100/149</text>
<text x="357.4" y="1200.0">100/47</text>
<text x="329.6" y="1206.2">100/60</text>
<text x="263.2" y="1213.5">100/90</text>
<text x="395.0" y="1233.4">100/30</text>
<text x="373.8" y="1239.6">100/39</text>
<text x="285.8" y="1246.9">100/80</text>
<text x="245.3" y="1230.2">100/98</text>
<text x="373.8" y="1266.8">100/39</text>
<text x="186.4" y="1273.0">100/125</text>
<text x="120.0" y="1251.6">100/156</text>
<text x="108.0" y="1184.2">100/162</text>
<text x="98.8" y="926.5">100/166</text>
<text x="444.0" y="1287.8" text-anchor="end">100/3</text>
<text x="436.3" y="1294.1" text-anchor="end">100/6</text>
<text x="431.5" y="1316.9">100/11</text>
<text x="421.7" y="1303.5" text-anchor="end">100/13</text>
<text x="414.8" y="1314.5" text-anchor="end">100/17</text>
<text x="370.2" y="1342.0">100/41</text>
<text x="316.5" y="1330.2">100/65</text>
<text x="297.3" y="1346.5">100/73</text>
<text x="328.2" y="1367.0">100/60</text>
<text x="298.3" y="1373.3">100/74</text>
<text x="114.2" y="1357.8">100/159</text>
<text x="79.6" y="1138.2" text-anchor="end">100/170</text>
<text x="74.1" y="1261.0" text-anchor="end">100/173</text>
<text x="376.0" y="1400.4">100/38</text>
<text x="137.9" y="1406.7">100/148</text>
<text x="63.6" y="1331.9" text-anchor="end">100/178</text>
<text x="123.8" y="1429.8" text-anchor="end">100/150</text>
<text x="45.9" y="1402.2" text-anchor="end">61/185</text>
<text x="448.4" y="1446.5" text-anchor="end">100/1</text>
<text x="445.8" y="1452.8" text-anchor="end">100/2</text>
<text x="414.3" y="1464.1">100/21</text>
<text x="411.4" y="1484.0">100/22</text>
<text x="399.0" y="1490.2">100/25</text>
<text x="386.0" y="1500.2">100/31</text>
<text x="376.8" y="1476.8" text-anchor="end">100/34</text>
<text x="371.9" y="1493.0" text-anchor="end">100/36</text>
<text x="432.0" y="1521.7" text-anchor="end">100/8</text>
<text x="386.8" y="1532.0">100/33</text>
<text x="377.8" y="1541.0">100/36</text>
<text x="372.3" y="1518.1">100/40</text>
<text x="359.3" y="1532.5" text-anchor="end">100/42</text>
<text x="352.5" y="1545.9" text-anchor="end">100/45</text>
<text x="428.2" y="1575.8">100/12</text>
<text x="416.1" y="1584.3">100/19</text>
<text x="348.3" y="1591.5">100/51</text>
<text x="323.4" y="1570.7">100/62</text>
<text x="304.6" y="1596.3">100/70</text>
<text x="378.9" y="1625.9">100/37</text>
<text x="281.2" y="1605.0" text-anchor="end">100/78</text>
<text x="348.3" y="1642.7">100/51</text>
<text x="267.2" y="1630.0">100/66</text>
<text x="410.6" y="1655.4" text-anchor="end">60/17</text>
<text x="411.8" y="1666.6">100/21</text>
<text x="350.8" y="1672.9">100/50</text>
<text x="233.1" y="1649.4">100/104</text>
<text x="341.3" y="1692.8">100/54</text>
<text x="207.1" y="1676.8">100/115</text>
<text x="403.7" y="1709.5">100/26</text>
<text x="187.0" y="1694.5">100/124</text>
<text x="409.6" y="1726.2">100/23</text>
<text x="160.7" y="1712.4">100/136</text>
<text x="379.3" y="1742.9">100/37</text>
<text x="242.4" y="1749.1">100/100</text>
<text x="88.3" y="1728.7">100/171</text>
<text x="50.3" y="1567.4">100/188</text>
<text x="15.5" y="1366.4">100/182</text>
</g>
<rect x="85.6" y="366.4" width="47.4" height="8.7" fill="#1f8aa8"/>
<text x="109.3" y="373.7" text-anchor="middle" font-family="Liberation Sans, sans-serif" font-weight="bold" font-size="8.1" fill="#fff" textLength="45.0" lengthAdjust="spacingAndGlyphs">Agaricineae</text>
<rect x="92.9" y="547.0" width="41.5" height="8.7" fill="#1f8aa8"/>
<text x="113.7" y="554.3" text-anchor="middle" font-family="Liberation Sans, sans-serif" font-weight="bold" font-size="8.1" fill="#fff" textLength="39.1" lengthAdjust="spacingAndGlyphs">Pluteineae</text>
<rect x="67.0" y="868.2" width="67.8" height="8.7" fill="#1f8aa8"/>
<text x="100.9" y="875.4" text-anchor="middle" font-family="Liberation Sans, sans-serif" font-weight="bold" font-size="8.1" fill="#fff" textLength="65.4" lengthAdjust="spacingAndGlyphs">Tricholomatineae</text>
<rect x="67.7" y="1110.4" width="55.4" height="8.7" fill="#1f8aa8"/>
<text x="95.4" y="1117.7" text-anchor="middle" font-family="Liberation Sans, sans-serif" font-weight="bold" font-size="8.1" fill="#fff" textLength="53.0" lengthAdjust="spacingAndGlyphs">Marasmiineae</text>
<rect x="136.4" y="1223.9" width="46.6" height="8.7" fill="#1f8aa8"/>
<text x="159.7" y="1231.2" text-anchor="middle" font-family="Liberation Sans, sans-serif" font-weight="bold" font-size="8.1" fill="#fff" textLength="44.2" lengthAdjust="spacingAndGlyphs">Mycenineae</text>
<rect x="101.7" y="1266.7" width="66.7" height="8.7" fill="#1f8aa8"/>
<text x="135.1" y="1274.0" text-anchor="middle" font-family="Liberation Sans, sans-serif" font-weight="bold" font-size="8.1" fill="#fff" textLength="64.3" lengthAdjust="spacingAndGlyphs">Schizophyllineae</text>
<rect x="142.5" y="1336.0" width="49.2" height="8.7" fill="#1f8aa8"/>
<text x="167.1" y="1343.3" text-anchor="middle" font-family="Liberation Sans, sans-serif" font-weight="bold" font-size="8.1" fill="#fff" textLength="46.8" lengthAdjust="spacingAndGlyphs">Pleurotineae</text>
<rect x="140.4" y="1366.9" width="68.9" height="8.7" fill="#1f8aa8"/>
<text x="174.9" y="1374.2" text-anchor="middle" font-family="Liberation Sans, sans-serif" font-weight="bold" font-size="8.1" fill="#fff" textLength="66.5" lengthAdjust="spacingAndGlyphs">Phyllotopsidineae</text>
<rect x="155.3" y="1381.5" width="59.4" height="8.7" fill="#1f8aa8"/>
<text x="185.0" y="1388.8" text-anchor="middle" font-family="Liberation Sans, sans-serif" font-weight="bold" font-size="8.1" fill="#fff" textLength="57.0" lengthAdjust="spacingAndGlyphs">Sarcomyxineae</text>
<rect x="66.3" y="1400.3" width="62.7" height="8.7" fill="#1f8aa8"/>
<text x="97.7" y="1407.6" text-anchor="middle" font-family="Liberation Sans, sans-serif" font-weight="bold" font-size="8.1" fill="#fff" textLength="60.3" lengthAdjust="spacingAndGlyphs">Hygrophorineae</text>
<rect x="71.0" y="1415.0" width="49.2" height="8.7" fill="#1f8aa8"/>
<text x="95.6" y="1422.2" text-anchor="middle" font-family="Liberation Sans, sans-serif" font-weight="bold" font-size="8.1" fill="#fff" textLength="46.8" lengthAdjust="spacingAndGlyphs">Clavariineae</text>
<rect x="0.0" y="1368.2" width="53.1" height="12.8" fill="#808080"/>
<text x="26.6" y="1378.2" text-anchor="middle" font-family="Liberation Sans, sans-serif" font-weight="bold" font-size="10" fill="#fff" textLength="50.7" lengthAdjust="spacingAndGlyphs">Agaricales</text>
<rect x="9.8" y="1427.1" width="83.2" height="12.7" fill="#808080"/>
<text x="51.4" y="1437.0" text-anchor="middle" font-family="Liberation Sans, sans-serif" font-weight="bold" font-size="10" fill="#fff" textLength="80.8" lengthAdjust="spacingAndGlyphs">Amylocorticiales</text>
<rect x="97.1" y="1699.3" width="46.3" height="13" fill="#808080"/>
<text x="120.2" y="1709.4" text-anchor="middle" font-family="Liberation Sans, sans-serif" font-weight="bold" font-size="10" fill="#fff" textLength="43.9" lengthAdjust="spacingAndGlyphs">Boletales</text>
<rect x="127.4" y="1741.1" width="49.2" height="12.4" fill="#808080"/>
<text x="152.0" y="1750.9" text-anchor="middle" font-family="Liberation Sans, sans-serif" font-weight="bold" font-size="10" fill="#fff" textLength="46.8" lengthAdjust="spacingAndGlyphs">Atheliales</text>
<g font-family="Liberation Sans, sans-serif" font-size="6.6" letter-spacing="0.24" fill="#000" stroke="#000" stroke-width="0.14">
<text x="457.5" y="10.75" xml:space="preserve">Strophariaceae <tspan font-style="italic">Pholiota adiposa</tspan> GCA 009935795.1</text>
<text x="457.5" y="19.10" xml:space="preserve">Strophariaceae <tspan font-style="italic">Pholiota conissans</tspan> CIRM BRFM</text>
<text x="457.5" y="27.46" xml:space="preserve">Strophariaceae <tspan font-style="italic">Pholiota microspora</tspan> GCA 003314615.1</text>
<text x="457.5" y="35.81" xml:space="preserve">Strophariaceae <tspan font-style="italic">Pholiota molesta</tspan> GCA 014925825.1</text>
<text x="457.5" y="44.16" xml:space="preserve">Strophariaceae <tspan font-style="italic">Hypholoma acutum</tspan> GCA 016801325.1</text>
<text x="457.5" y="52.51" xml:space="preserve">Strophariaceae <tspan font-style="italic">Hypholoma lateritium</tspan> GCA 000827495.1</text>
<text x="457.5" y="60.87" xml:space="preserve">Strophariaceae <tspan font-style="italic">Stropharia rugosoannulata</tspan> GCA 003314255.1</text>
<text x="457.5" y="69.22" xml:space="preserve">Strophariaceae <tspan font-style="italic">Deconica cf. subviscida</tspan> GCA 013368295.1</text>
<text x="457.5" y="77.57" xml:space="preserve">Hymenogastraceae <tspan font-style="italic">Flammula alnicola</tspan> GCA 015499995.1</text>
<text x="457.5" y="85.92" xml:space="preserve">Hymenogastraceae <tspan font-style="italic">Hebeloma cylindrosporum</tspan> GCA 000827355.1</text>
<text x="457.5" y="94.28" xml:space="preserve">Hymenogastraceae <tspan font-style="italic">Psilocybe azurescens</tspan> GCA 019721835.1</text>
<text x="457.5" y="102.63" xml:space="preserve">Hymenogastraceae <tspan font-style="italic">Psilocybe cyanescens</tspan> GCA 002938375.1</text>
<text x="457.5" y="110.98" xml:space="preserve">Hymenogastraceae <tspan font-style="italic">Psilocybe serbica</tspan> v1.0</text>
<text x="457.5" y="119.34" xml:space="preserve">Hymenogastraceae <tspan font-style="italic">Psilocybe galindoi</tspan> GCA 019721455.1</text>
<text x="457.5" y="127.69" xml:space="preserve">Hymenogastraceae <tspan font-style="italic">Psilocybe tampanensis</tspan> GCA 019904355.1</text>
<text x="457.5" y="136.04" xml:space="preserve">Strophariaceae <tspan font-style="italic">Agrocybe pediades</tspan> GCA 013053245.1</text>
<text x="457.5" y="144.39" xml:space="preserve">Hymenogastraceae <tspan font-style="italic">Gymnopilus dilepis</tspan> GCA 002938385.1</text>
<text x="457.5" y="152.75" xml:space="preserve">Hymenogastraceae <tspan font-style="italic">Gymnopilus junonius</tspan> GCA 015501075.1</text>
<text x="457.5" y="161.10" xml:space="preserve">Hymenogastraceae <tspan font-style="italic">Galerina marginata</tspan> GCA 000697645.1</text>
<text x="457.5" y="169.45" xml:space="preserve">Crepidotaceae <tspan font-style="italic">Crepidotus variabilis</tspan> GCA 015657495.1</text>
<text x="457.5" y="177.80" xml:space="preserve">Inocybaceae <tspan font-style="italic">Inocybe terrigena</tspan> GCA_003347685.1</text>
<text x="457.5" y="186.16" xml:space="preserve">Tubariaceae <tspan font-style="italic">Tubaria furfuracea</tspan> GCA 900069095.1</text>
<text x="457.5" y="194.51" xml:space="preserve">Tubariaceae <tspan font-style="italic">Cyclocybe aegerita</tspan> GCA 902728275.1</text>
<text x="457.5" y="202.86" xml:space="preserve">Tubariaceae <tspan font-style="italic">Cyclocybe cylindracea</tspan> GCA 013376435.1</text>
<text x="457.5" y="211.21" xml:space="preserve">Galeropsidaceae  <tspan font-style="italic">Panaeolus cyanescens</tspan> GCA 002938355.1</text>
<text x="457.5" y="219.57" xml:space="preserve">Galeropsidaceae  <tspan font-style="italic">Panaeolus papilionaceus</tspan> GCA 015501605.1</text>
<text x="457.5" y="227.92" xml:space="preserve">Cortinariaceae <tspan font-style="italic">Phlegmacium glaucopus</tspan> GCA 015039465.1</text>
<text x="457.5" y="236.27" xml:space="preserve">Crassisporiaceae <tspan font-style="italic">Crassisporium funariophilum</tspan> GCA 014925845.1</text>
<text x="457.5" y="244.63" xml:space="preserve">Psathyrellaceae <tspan font-style="italic">Tulosesus angulatus</tspan> GCA_013368325.1</text>
<text x="457.5" y="252.98" xml:space="preserve">Psathyrellaceae <tspan font-style="italic">Tulosesus angulatus</tspan> GCA 013368325.1</text>
<text x="457.5" y="261.33" xml:space="preserve">Psathyrellaceae <tspan font-style="italic">Coprinellus micaceus</tspan> GCA 004369175.1</text>
<text x="457.5" y="269.68" xml:space="preserve">Psathyrellaceae <tspan font-style="italic">Candolleomyces aberdarensis</tspan> GCA 004126415.1</text>
<text x="457.5" y="278.04" xml:space="preserve">Psathyrellaceae <tspan font-style="italic">Coprinopsis</tspan> sp. GCA 020736565.1</text>
<text x="457.5" y="286.39" xml:space="preserve">Psathyrellaceae <tspan font-style="italic">Coprinopsis strossmayeri</tspan> GCA 900156845.1</text>
<text x="457.5" y="294.74" xml:space="preserve">Psathyrellaceae <tspan font-style="italic">Coprinopsis cinerea</tspan> GCA 000182895.1</text>
<text x="457.5" y="303.09" xml:space="preserve">Psathyrellaceae <tspan font-style="italic">Coprinopsis marcescibilis</tspan> GCA 004369085.1</text>
<text x="457.5" y="311.45" xml:space="preserve">Hydnangiaceae <tspan font-style="italic">Laccaria bicolor</tspan> GCA 000143565.1</text>
<text x="457.5" y="319.80" xml:space="preserve">Hydnangiaceae <tspan font-style="italic">Laccaria trichodermophora</tspan> GCA 018417955.1</text>
<text x="457.5" y="328.15" xml:space="preserve">Hydnangiaceae <tspan font-style="italic">Laccaria amethystina</tspan> LaAM-08-1 v2.0</text>
<text x="457.5" y="336.51" xml:space="preserve">Nidulariaceae <tspan font-style="italic">Crucibulum laeve</tspan> GCA 004379715.1</text>
<text x="457.5" y="344.86" xml:space="preserve">Nidulariaceae <tspan font-style="italic">Cyathus striatus</tspan> GCA 015501535.1</text>
<text x="457.5" y="353.21" xml:space="preserve">Squamanitaceae <tspan font-style="italic">Floccularia luteovirens</tspan> GCA 009739215.1</text>
<text x="457.5" y="361.56" xml:space="preserve">Agaricaceae <tspan font-style="italic">Podaxis carcinomalis</tspan> GCA 018524395.1</text>
<text x="457.5" y="369.92" xml:space="preserve">Agaricaceae <tspan font-style="italic">Podaxis rugospora</tspan> GCA 018524415.1</text>
<text x="457.5" y="378.27" xml:space="preserve">Agaricaceae <tspan font-style="italic">Podaxis pistillaris</tspan> GCA 018524465.1</text>
<text x="457.5" y="386.62" xml:space="preserve">Agaricaceae <tspan font-style="italic">Podaxis</tspan> sp. GCA 018524725.1</text>
<text x="457.5" y="394.97" xml:space="preserve">Agaricaceae <tspan font-style="italic">Macrolepiota dolichaula</tspan> GCA 003315915.1</text>
<text x="457.5" y="403.33" xml:space="preserve">Agaricaceae <tspan font-style="italic">Macrolepiota fuliginosa</tspan> MF-IS2</text>
<text x="457.5" y="411.68" xml:space="preserve">Agaricaceae <tspan font-style="italic">Leucocoprinus gongylophorus</tspan> Ac12</text>
<text x="457.5" y="420.03" xml:space="preserve">Agaricaceae <tspan font-style="italic">Leucocoprinus</tspan> sp. GCA 019327925.1</text>
<text x="457.5" y="428.39" xml:space="preserve">Agaricaceae <tspan font-style="italic">Leucocoprinus leucothites</tspan> GCA 013368445.1</text>
<text x="457.5" y="436.74" xml:space="preserve">Agaricaceae <tspan font-style="italic">Leucocoprinus</tspan> sp. GCA 001563735.1</text>
<text x="457.5" y="445.09" xml:space="preserve">Agaricaceae <tspan font-style="italic">Agaricus bisporus</tspan> var. <tspan font-style="italic">burnettii</tspan> GCA 000300555.1</text>
<text x="457.5" y="453.44" xml:space="preserve">Agaricaceae <tspan font-style="italic">Lepiota venenata</tspan> GCA 004296355.1</text>
<text x="457.5" y="461.80" xml:space="preserve">Agaricaceae <tspan font-style="italic">Coprinus comatus</tspan> GCA 003316025.1</text>
<text x="457.5" y="470.15" xml:space="preserve">Amanitaceae <tspan font-style="italic">Amanita phalloides</tspan> GCA 001983385.1</text>
<text x="457.5" y="478.50" xml:space="preserve">Amanitaceae <tspan font-style="italic">Amanita subjunquillea</tspan> GCA 020011035.1</text>
<text x="457.5" y="486.85" xml:space="preserve">Amanitaceae <tspan font-style="italic">Amanita bisporigera</tspan> GCA 001983365.1</text>
<text x="457.5" y="495.21" xml:space="preserve">Amanitaceae <tspan font-style="italic">Amanita brunnescens</tspan> GCA 001691785.2</text>
<text x="457.5" y="503.56" xml:space="preserve">Amanitaceae <tspan font-style="italic">Amanita rubescens</tspan> GCA 015039365.1</text>
<text x="457.5" y="511.91" xml:space="preserve">Amanitaceae <tspan font-style="italic">Amanita polypyramis</tspan> GCA 001691755.2</text>
<text x="457.5" y="520.26" xml:space="preserve">Amanitaceae <tspan font-style="italic">Amanita pseudoporphyria</tspan> GCA 003316615.1</text>
<text x="457.5" y="528.62" xml:space="preserve">Amanitaceae <tspan font-style="italic">Amanita jacksonii</tspan> GCA 000497225.1</text>
<text x="457.5" y="536.97" xml:space="preserve">Amanitaceae <tspan font-style="italic">Amanita muscaria</tspan> Koide v1.0</text>
<text x="457.5" y="545.32" xml:space="preserve">Amanitaceae <tspan font-style="italic">Saproamanita inopinata</tspan> GCA 001691775.3</text>
<text x="457.5" y="553.68" xml:space="preserve">Amanitaceae <tspan font-style="italic">Saproamanita thiersii</tspan> Skay4041</text>
<text x="457.5" y="562.03" xml:space="preserve">Pluteaceae <tspan font-style="italic">Pluteus cervinus</tspan> NL 1719</text>
<text x="457.5" y="570.38" xml:space="preserve">Pluteaceae <tspan font-style="italic">Volvariella volvacea</tspan> GCA 001691835.3</text>
<text x="457.5" y="578.73" xml:space="preserve">Lyophyllaceae <tspan font-style="italic">Termitomyces bulborhizus</tspan> GCA 017580835.1</text>
<text x="457.5" y="587.09" xml:space="preserve">Lyophyllaceae <tspan font-style="italic">Termitomyces cryptogamus</tspan> GCA 020091625.1</text>
<text x="457.5" y="595.44" xml:space="preserve">Lyophyllaceae <tspan font-style="italic">Termitomyces eurrhizus</tspan> GCA 003316525.1</text>
<text x="457.5" y="603.79" xml:space="preserve">Lyophyllaceae <tspan font-style="italic">Termitomyces heimii</tspan> GCA 003313675.1</text>
<text x="457.5" y="612.14" xml:space="preserve">Lyophyllaceae <tspan font-style="italic">Termitomyces titanicus</tspan> GCA 017657335.1</text>
<text x="457.5" y="620.50" xml:space="preserve">Lyophyllaceae  <tspan font-style="italic">Arthromyces matolae</tspan> GCA 018855395.1</text>
<text x="457.5" y="628.85" xml:space="preserve">Lyophyllaceae <tspan font-style="italic">Praearthromyces griseus</tspan> GCA 018220975.1</text>
<text x="457.5" y="637.20" xml:space="preserve">Lyophyllaceae <tspan font-style="italic">Praearthromyces corneri</tspan> GCA 018854895.1</text>
<text x="457.5" y="645.56" xml:space="preserve">Lyophyllaceae <tspan font-style="italic">Blastosporella zonata</tspan> GCA 018856295.1</text>
<text x="457.5" y="653.91" xml:space="preserve">Lyophyllaceae <tspan font-style="italic">Tephrocybe rancida</tspan> GCA 018858115.1</text>
<text x="457.5" y="662.26" xml:space="preserve">Lyophyllaceae <tspan font-style="italic">Myochromella boudieri</tspan> GCA 018221655.1</text>
<text x="457.5" y="670.61" xml:space="preserve">Lyophyllaceae <tspan font-style="italic">Calocybe gambosa</tspan> GCA 900068965.1</text>
<text x="457.5" y="678.97" xml:space="preserve">Lyophyllaceae <tspan font-style="italic">Calocybe carnea</tspan> GCA 018221805.1</text>
<text x="457.5" y="687.32" xml:space="preserve">Lyophyllaceae <tspan font-style="italic">Calocybe cyanea</tspan> GCA 018851305.1</text>
<text x="457.5" y="695.67" xml:space="preserve">Lyophyllaceae <tspan font-style="italic">Calocybe gangraenosa</tspan> GCA 018221785.1</text>
<text x="457.5" y="704.02" xml:space="preserve">Lyophyllaceae <tspan font-style="italic">Asterophora lycoperdoides</tspan> GCA 018850815.1</text>
<text x="457.5" y="712.38" xml:space="preserve">Lyophyllaceae <tspan font-style="italic">Asterophora parasitica</tspan> GCA 018282005.1</text>
<text x="457.5" y="720.73" xml:space="preserve">Lyophyllaceae <tspan font-style="italic">Tricholomella constricta</tspan> GCA 013368375.1</text>
<text x="457.5" y="729.08" xml:space="preserve">Lyophyllaceae <tspan font-style="italic">Sphagnurus paluster</tspan> GCA 018282025.1</text>
<text x="457.5" y="737.43" xml:space="preserve">Lyophyllaceae <tspan font-style="italic">Lyophyllum decastes</tspan> GCA 001950495.1</text>
<text x="457.5" y="745.79" xml:space="preserve">Lyophyllaceae <tspan font-style="italic">Lyophyllum shimeji</tspan> GCA 001950515.1</text>
<text x="457.5" y="754.14" xml:space="preserve">Lyophyllaceae <tspan font-style="italic">Lyophyllum atratum</tspan> GCA 014905825.1</text>
<text x="457.5" y="762.49" xml:space="preserve">Lyophyllaceae <tspan font-style="italic">Lyophyllum semitale</tspan> GCA 018851285.1</text>
<text x="457.5" y="770.85" xml:space="preserve">Lyophyllaceae <tspan font-style="italic">Hypsizygus marmoreus</tspan> GCA 013433165.1</text>
<text x="457.5" y="779.20" xml:space="preserve">Lyophyllaceae <tspan font-style="italic">Hypsizygus ulmarius</tspan> GCA 018851835.1</text>
<text x="457.5" y="787.55" xml:space="preserve">Entolomataceae <tspan font-style="italic">Clitopilus hobsonii</tspan> GCA 015708445.2</text>
<text x="457.5" y="795.90" xml:space="preserve">Entolomataceae <tspan font-style="italic">Entoloma clypeatum</tspan> GCA 900068945.1</text>
<text x="457.5" y="804.26" xml:space="preserve">Tricholomataceae <tspan font-style="italic">Tricholoma bakamatsutake</tspan> GCA 003313665.1</text>
<text x="457.5" y="812.61" xml:space="preserve">Tricholomataceae <tspan font-style="italic">Tricholoma matsutake</tspan> 945 v3.0</text>
<text x="457.5" y="820.96" xml:space="preserve">Tricholomataceae <tspan font-style="italic">Tricholoma equestre</tspan> GCA 003313805.1</text>
<text x="457.5" y="829.31" xml:space="preserve">Tricholomataceae <tspan font-style="italic">Tricholoma saponaceum</tspan> GCA 003313625.1</text>
<text x="457.5" y="837.67" xml:space="preserve">Tricholomataceae <tspan font-style="italic">Tricholoma terreum</tspan> GCA 003316345.1</text>
<text x="457.5" y="846.02" xml:space="preserve">Clitocybaceae <tspan font-style="italic">Lepista nuda</tspan> GCA 015584075.1</text>
<text x="457.5" y="854.37" xml:space="preserve">Clitocybaceae <tspan font-style="italic">Leucocalocybe mongolica</tspan> GCA 013420905.1</text>
<text x="457.5" y="862.73" xml:space="preserve">Clitocybaceae <tspan font-style="italic">Lepista sordida</tspan> GCA 010725545.2</text>
<text x="457.5" y="871.08" xml:space="preserve">Clitocybaceae <tspan font-style="italic">Clitocybe nebularis</tspan> GCA 900068955.1</text>
<text x="457.5" y="879.43" xml:space="preserve">Callistosporiaceae <tspan font-style="italic">Macrocybe gigantea</tspan> GCA 011319805.1</text>
<text x="457.5" y="887.78" xml:space="preserve">Callistosporiaceae <tspan font-style="italic">Macrocybe</tspan> sp. GCA 018093805.1</text>
<text x="457.5" y="896.14" xml:space="preserve"><tspan font-style="italic">Collybia</tspan> sp.  GCA 003313185.1</text>
<text x="457.5" y="904.49" xml:space="preserve">Omphalinaceae <tspan font-style="italic">Infundibulicybe gibba</tspan> GCA 015501065.1</text>
<text x="457.5" y="912.84" xml:space="preserve">Macrocystidiaceae <tspan font-style="italic">Macrocystidia cucumis</tspan> GCA 001179725.1</text>
<text x="457.5" y="921.19" xml:space="preserve">Physalacriaceae <tspan font-style="italic">Hymenopellis raphanipes</tspan> GCA 003314085.1</text>
<text x="457.5" y="929.55" xml:space="preserve">Physalacriaceae <tspan font-style="italic">Hymenopellis radicata</tspan> IJFM A160 v1.0</text>
<text x="457.5" y="937.90" xml:space="preserve">Physalacriaceae <tspan font-style="italic">Mucidula mucida</tspan> strain GCA 015501055.1</text>
<text x="457.5" y="946.25" xml:space="preserve">Physalacriaceae <tspan font-style="italic">Strobilurus luchuensis</tspan> GCA 019915105.1</text>
<text x="457.5" y="954.61" xml:space="preserve">Physalacriaceae <tspan font-style="italic">Strobilurus stephanocystis</tspan> GCA 019915075.1</text>
<text x="457.5" y="962.96" xml:space="preserve">Physalacriaceae <tspan font-style="italic">Strobilurus orientalis</tspan> GCA 019915145.1</text>
<text x="457.5" y="971.31" xml:space="preserve">Physalacriaceae <tspan font-style="italic">Flammulina filiformis</tspan> GCA 015342475.1</text>
<text x="457.5" y="979.66" xml:space="preserve">Physalacriaceae <tspan font-style="italic">Flammulina velutipes</tspan> GCA 011800155.1</text>
<text x="457.5" y="988.02" xml:space="preserve">Physalacriaceae <tspan font-style="italic">Cylindrobasidium torrendii</tspan> FP15055</text>
<text x="457.5" y="996.37" xml:space="preserve">Physalacriaceae <tspan font-style="italic">Armillaria cepistipes</tspan> GCA 900157415.1</text>
<text x="457.5" y="1004.72" xml:space="preserve">Physalacriaceae <tspan font-style="italic">Armillaria gallica</tspan> GCA 012064365.1</text>
<text x="457.5" y="1013.07" xml:space="preserve">Physalacriaceae <tspan font-style="italic">Armillaria ostoyae</tspan> GCA 900157425.1</text>
<text x="457.5" y="1021.43" xml:space="preserve">Physalacriaceae <tspan font-style="italic">Armillaria solidipes</tspan> GCA 002307675.1</text>
<text x="457.5" y="1029.78" xml:space="preserve">Physalacriaceae <tspan font-style="italic">Armillaria mellea</tspan> DSM 3731</text>
<text x="457.5" y="1038.13" xml:space="preserve">Physalacriaceae <tspan font-style="italic">Armillaria fuscipes</tspan> GCA 001679825.1</text>
<text x="457.5" y="1046.48" xml:space="preserve">Physalacriaceae <tspan font-style="italic">Guyanagaster necrorhizus</tspan> GCA 019112545.1</text>
<text x="457.5" y="1054.84" xml:space="preserve">Omphalotaceae <tspan font-style="italic">Collybiopsis confluens</tspan> GCA 013368555.1</text>
<text x="457.5" y="1063.19" xml:space="preserve">Omphalotaceae <tspan font-style="italic">Collybiopsis luxurians</tspan> GCA 000827265.1</text>
<text x="457.5" y="1071.54" xml:space="preserve">Omphalotaceae <tspan font-style="italic">Lentinula edodes</tspan> GCA 015476405.1</text>
<text x="457.5" y="1079.90" xml:space="preserve">Omphalotaceae <tspan font-style="italic">Gymnopus androsaceus</tspan> JB14</text>
<text x="457.5" y="1088.25" xml:space="preserve">Omphalotaceae <tspan font-style="italic">Neonothopanus nambi</tspan> GCA 003987895.1</text>
<text x="457.5" y="1096.60" xml:space="preserve">Omphalotaceae <tspan font-style="italic">Omphalotus olearius</tspan>  VT-653.13</text>
<text x="457.5" y="1104.95" xml:space="preserve"><tspan font-style="italic">Dendrothele bispora</tspan> GCA 004369135.1</text>
<text x="457.5" y="1113.31" xml:space="preserve"><tspan font-style="italic">Tetrapyrgos nigripes</tspan> GCA 013368315.1</text>
<text x="457.5" y="1121.66" xml:space="preserve">Marasmiaceae <tspan font-style="italic">Marasmius oreades</tspan> GCA 018924745.1</text>
<text x="457.5" y="1130.01" xml:space="preserve">Marasmiaceae <tspan font-style="italic">Marasmius fiardii</tspan> GCA 014904975.1</text>
<text x="457.5" y="1138.36" xml:space="preserve">Marasmiaceae <tspan font-style="italic">Moniliophthora perniciosa</tspan> FA553</text>
<text x="457.5" y="1146.72" xml:space="preserve">Marasmiaceae <tspan font-style="italic">Moniliophthora roreri</tspan> MCA 2997</text>
<text x="457.5" y="1155.07" xml:space="preserve">Cyphellaceae <tspan font-style="italic">Chondrostereum purpureum</tspan> GCA 004354395.1</text>
<text x="457.5" y="1163.42" xml:space="preserve">Cyphellaceae <tspan font-style="italic">Gloeostereum incarnatum</tspan> GCA 010588315.1</text>
<text x="457.5" y="1171.78" xml:space="preserve">Porotheleaceae <tspan font-style="italic">Megacollybia platyphylla</tspan> GCA 900068915.1</text>
<text x="457.5" y="1180.13" xml:space="preserve">Porotheleaceae <tspan font-style="italic">Megacollybia marginata</tspan> GCA 003313965.1</text>
<text x="457.5" y="1188.48" xml:space="preserve"><tspan font-style="italic">Baeospora myosura</tspan> GCA 001179705.1</text>
<text x="457.5" y="1196.83" xml:space="preserve">Mycenaceae <tspan font-style="italic">Mycena chlorophos</tspan> GCA 014461115.1</text>
<text x="457.5" y="1205.19" xml:space="preserve">Mycenaceae <tspan font-style="italic">Mycena indigotica</tspan> GCA 014461135.1</text>
<text x="457.5" y="1213.54" xml:space="preserve">Mycenaceae <tspan font-style="italic">Mycena kentingensis</tspan> GCA 014461125.1</text>
<text x="457.5" y="1221.89" xml:space="preserve">Mycenaceae <tspan font-style="italic">Mycena citricolor</tspan> GCA 003987915.1</text>
<text x="457.5" y="1230.24" xml:space="preserve">Mycenaceae <tspan font-style="italic">Mycena galopus</tspan> GCA 014925785.1</text>
<text x="457.5" y="1238.60" xml:space="preserve">Mycenaceae <tspan font-style="italic">Mycena sanguinolenta</tspan> GCA 014462675.1</text>
<text x="457.5" y="1246.95" xml:space="preserve">Mycenaceae <tspan font-style="italic">Mycena venus</tspan> GCA 014462655.1</text>
<text x="457.5" y="1255.30" xml:space="preserve">Mycenaceae <tspan font-style="italic">Panellus pusillus</tspan> GCA 013387415.1</text>
<text x="457.5" y="1263.65" xml:space="preserve">Schizophyllaceae <tspan font-style="italic">Schizophyllum amplum</tspan> GCA 007026445.1</text>
<text x="457.5" y="1272.01" xml:space="preserve">Schizophyllaceae <tspan font-style="italic">Schizophyllum commune</tspan> GCA 000143185.1</text>
<text x="457.5" y="1280.36" xml:space="preserve">Schizophyllaceae <tspan font-style="italic">Fistulina hepatica</tspan> GCA 000934395.1</text>
<text x="457.5" y="1288.71" xml:space="preserve">Pleurotaceae <tspan font-style="italic">Pleurotus floridanus</tspan> GCA 019395345.1</text>
<text x="457.5" y="1297.07" xml:space="preserve">Pleurotaceae <tspan font-style="italic">Pleurotus platypus</tspan> GCA 003313735.1</text>
<text x="457.5" y="1305.42" xml:space="preserve">Pleurotaceae <tspan font-style="italic">Pleurotus ostreatus</tspan> GCA 014466165.1</text>
<text x="457.5" y="1313.77" xml:space="preserve">Pleurotaceae <tspan font-style="italic">Pleurotus eryngii</tspan> GCA 003243765.1</text>
<text x="457.5" y="1322.12" xml:space="preserve">Pleurotaceae <tspan font-style="italic">Pleurotus tuoliensis</tspan> GCA 003243755.1</text>
<text x="457.5" y="1330.48" xml:space="preserve">Pleurotaceae <tspan font-style="italic">Pleurotus pulmonarius</tspan> GCA 012980535.1</text>
<text x="457.5" y="1338.83" xml:space="preserve">Pleurotaceae <tspan font-style="italic">Pleurotus citrinopileatus</tspan> GCA 017312325.1</text>
<text x="457.5" y="1347.18" xml:space="preserve">Pleurotaceae <tspan font-style="italic">Pleurotus djamor</tspan> GCA 002583695.1</text>
<text x="457.5" y="1355.53" xml:space="preserve">Pleurotaceae <tspan font-style="italic">Pleurotus tuber-regium</tspan> GCA 014058305.1</text>
<text x="457.5" y="1363.89" xml:space="preserve">Agaricales sp. GCA 002718315.1</text>
<text x="457.5" y="1372.24" xml:space="preserve">Pterulaceae <tspan font-style="italic">Pterula multifida</tspan> GCA 900068985.1</text>
<text x="457.5" y="1380.59" xml:space="preserve">Pterulaceae <tspan font-style="italic">Pterulicium gracile</tspan> GCA 004369125.1</text>
<text x="457.5" y="1388.95" xml:space="preserve">Sarcomyxaceae <tspan font-style="italic">Sarcomyxa edulis</tspan> GCA 009761415.1</text>
<text x="457.5" y="1397.30" xml:space="preserve">Hygrophoraceae <tspan font-style="italic">Hygrophorus pudorinus</tspan> GCA 003314045.1</text>
<text x="457.5" y="1405.65" xml:space="preserve">Hygrophoraceae <tspan font-style="italic">Hygrophorus russula</tspan> GCA 003314125.1</text>
<text x="457.5" y="1414.00" xml:space="preserve">Hygrophoraceae <tspan font-style="italic">Hygrocybe conica</tspan> GCA 900068975.1</text>
<text x="457.5" y="1422.36" xml:space="preserve">Clavariaceae <tspan font-style="italic">Clavaria fumosa</tspan> GCA 001179745.1</text>
<text x="457.5" y="1430.71" xml:space="preserve">Amylocorticiaceae <tspan font-style="italic">Agroathelia rolfsii</tspan> GCA 018343915.1</text>
<text x="457.5" y="1439.06" xml:space="preserve">Amylocorticiaceae <tspan font-style="italic">Plicaturopsis crispa</tspan> GCA 000827205.1</text>
<text x="457.5" y="1447.41" xml:space="preserve">Boletaceae <tspan font-style="italic">Butyriboletus roseoflavus</tspan> GCA 019364595.1</text>
<text x="457.5" y="1455.77" xml:space="preserve">Boletaceae <tspan font-style="italic">Retiboletus ornatipes</tspan> GCA 003316065.1</text>
<text x="457.5" y="1464.12" xml:space="preserve">Boletaceae <tspan font-style="italic">Boletus</tspan> sp. GCA 019096195.1</text>
<text x="457.5" y="1472.47" xml:space="preserve">Boletaceae <tspan font-style="italic">Caloboletus calopus</tspan> GCA 003316085.1</text>
<text x="457.5" y="1480.83" xml:space="preserve">Boletaceae <tspan font-style="italic">Boletus subvelutipes</tspan> GCA 003316035.1</text>
<text x="457.5" y="1489.18" xml:space="preserve">Boletaceae <tspan font-style="italic">Sutorius magnificus</tspan> GCA 003316145.1</text>
<text x="457.5" y="1497.53" xml:space="preserve">Boletaceae <tspan font-style="italic">Neoboletus brunneissimus</tspan> GCA 003316195.1</text>
<text x="457.5" y="1505.88" xml:space="preserve">Boletaceae <tspan font-style="italic">Pulveroboletus ravenelii</tspan> GCA 003316545.1</text>
<text x="457.5" y="1514.24" xml:space="preserve">Boletaceae <tspan font-style="italic">Lanmaoa asiatica</tspan> GCA 020310465.1</text>
<text x="457.5" y="1522.59" xml:space="preserve">Boletaceae <tspan font-style="italic">Boletus edulis</tspan> GCA 015179015.1</text>
<text x="457.5" y="1530.94" xml:space="preserve">Boletaceae <tspan font-style="italic">Boletus reticuloceps</tspan> GCA 018397855.1</text>
<text x="457.5" y="1539.29" xml:space="preserve">Boletaceae <tspan font-style="italic">Tylopilus plumbeoviolaceoides</tspan> GCA 003316375.1</text>
<text x="457.5" y="1547.65" xml:space="preserve">Boletaceae <tspan font-style="italic">Imleria badia</tspan> GCA 015039435.1</text>
<text x="457.5" y="1556.00" xml:space="preserve">Boletaceae <tspan font-style="italic">Hemileccinum impolitum</tspan> GCA 003316335.1</text>
<text x="457.5" y="1564.35" xml:space="preserve">Boletaceae <tspan font-style="italic">Chiua virens</tspan> GCA 019787685.1</text>
<text x="457.5" y="1572.70" xml:space="preserve">Paxillaceae <tspan font-style="italic">Paxillus ammoniavirescens</tspan> Pou09.2</text>
<text x="457.5" y="1581.06" xml:space="preserve">Paxillaceae <tspan font-style="italic">Paxillus involutus</tspan> ATCC 200175 v1.0</text>
<text x="457.5" y="1589.41" xml:space="preserve">Paxillaceae <tspan font-style="italic">Paxillus adelphus</tspan> Ve08.2h10</text>
<text x="457.5" y="1597.76" xml:space="preserve">Paxillaceae <tspan font-style="italic">Melanogaster broomeanus</tspan> GCA 014904935.1</text>
<text x="457.5" y="1606.12" xml:space="preserve">Paxillaceae <tspan font-style="italic">Melanogaster broomeanus</tspan> GCA 014904935.1</text>
<text x="457.5" y="1614.47" xml:space="preserve"><tspan font-style="italic">incertae sedis Hydnomerulius pinastri</tspan> GCA 000827185.1</text>
<text x="457.5" y="1622.82" xml:space="preserve">Boletinellaceae <tspan font-style="italic">Phlebopus portentosus</tspan> GCA 020232755.1</text>
<text x="457.5" y="1631.17" xml:space="preserve">Boletinellaceae <tspan font-style="italic">Phlebopus</tspan> sp. GCA 021018615.1</text>
<text x="457.5" y="1639.53" xml:space="preserve">Diplocystidiaceae <tspan font-style="italic">Astraeus odoratus</tspan> GCA 016618355.2</text>
<text x="457.5" y="1647.88" xml:space="preserve">Sclerodermataceae <tspan font-style="italic">Scleroderma citrinum</tspan> Foug A v1.0</text>
<text x="457.5" y="1656.23" xml:space="preserve">Suillaceae <tspan font-style="italic">Suillus luteus</tspan> GCA 000827255.1</text>
<text x="457.5" y="1664.58" xml:space="preserve">Suillaceae <tspan font-style="italic">Suillus subaureus</tspan> GCA 016647635.1</text>
<text x="457.5" y="1672.94" xml:space="preserve">Suillaceae <tspan font-style="italic">Suillus plorans</tspan> GCA 016647745.1</text>
<text x="457.5" y="1681.29" xml:space="preserve">Rhizopogonaceae <tspan font-style="italic">Rhizopogon vesiculosus</tspan> LVVM00000000</text>
<text x="457.5" y="1689.64" xml:space="preserve">Hygrophoropsidaceae <tspan font-style="italic">Hygrophoropsis aurantiaca</tspan> ATCC</text>
<text x="457.5" y="1698.00" xml:space="preserve">Hygrophoropsidaceae <tspan font-style="italic">Leucogyrophana mollusca</tspan> KUC20120723A 06</text>
<text x="457.5" y="1706.35" xml:space="preserve">Coniophoraceae <tspan font-style="italic">Coniophora olivacea</tspan> MUCL  20566 v1.0</text>
<text x="457.5" y="1714.70" xml:space="preserve">Coniophoraceae <tspan font-style="italic">Coniophora puteana</tspan> GCA 000271625.1</text>
<text x="457.5" y="1723.05" xml:space="preserve">Serpulaceae <tspan font-style="italic">Serpula himantioides</tspan> MUCL38935 v1.0</text>
<text x="457.5" y="1731.41" xml:space="preserve">Serpulaceae <tspan font-style="italic">Serpula lacrymans</tspan> var. <tspan font-style="italic">lacrymans</tspan> GCA 000218685.1</text>
<text x="457.5" y="1739.76" xml:space="preserve">Atheliaceae <tspan font-style="italic">Athelia</tspan> sp. GCA 014898675.1</text>
<text x="457.5" y="1748.11" xml:space="preserve">Atheliaceae <tspan font-style="italic">Athelia psychrophila</tspan> CBS 109695 v1.0</text>
<text x="457.5" y="1756.46" xml:space="preserve">Pilodermataceae <tspan font-style="italic">Piloderma olivaceum</tspan> F 1598 v1.0</text>
</g>
</svg>
</body></html>
